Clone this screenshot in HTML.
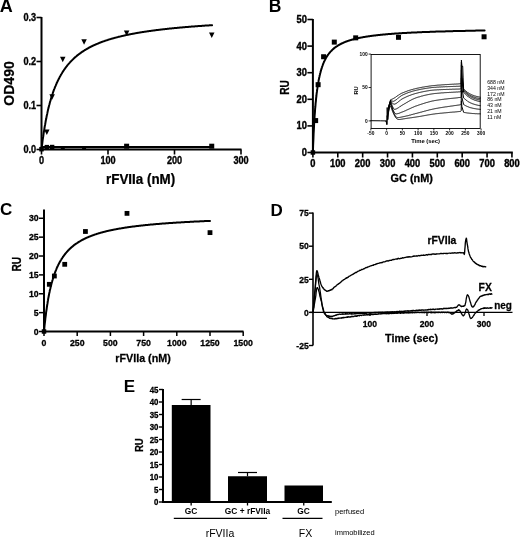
<!DOCTYPE html>
<html><head><meta charset="utf-8"><title>Figure</title>
<style>
html,body{margin:0;padding:0;background:#fff;}
body{width:520px;height:538px;overflow:hidden;font-family:"Liberation Sans",sans-serif;}
svg{display:block;will-change:transform;}
svg text{font-family:"Liberation Sans",sans-serif;fill:#000;}
</style></head><body>
<svg width="520" height="538" viewBox="0 0 520 538">
<rect width="520" height="538" fill="#fff"/>
<text transform="translate(-0.30,12.30) scale(1.0,1)" font-size="18" font-weight="bold" text-anchor="start">A</text>
<text transform="translate(268.70,12.30) scale(1.0,1)" font-size="17.5" font-weight="bold" text-anchor="start">B</text>
<text transform="translate(0.00,215.10) scale(1.0,1)" font-size="17" font-weight="bold" text-anchor="start">C</text>
<text transform="translate(270.50,215.60) scale(1.0,1)" font-size="17" font-weight="bold" text-anchor="start">D</text>
<text transform="translate(123.70,392.10) scale(1.0,1)" font-size="17" font-weight="bold" text-anchor="start">E</text>
<line x1="41.50" y1="17.00" x2="41.50" y2="150.50" stroke="#000" stroke-width="2" />
<line x1="40.50" y1="149.50" x2="241.50" y2="149.50" stroke="#000" stroke-width="2.2" />
<line x1="36.50" y1="149.50" x2="41.50" y2="149.50" stroke="#000" stroke-width="1.6" />
<text transform="translate(36.10,153.00) scale(0.87,1)" font-size="10.5" font-weight="bold" text-anchor="end" stroke="#000" stroke-width="0.35">0.0</text>
<line x1="36.50" y1="105.50" x2="41.50" y2="105.50" stroke="#000" stroke-width="1.6" />
<text transform="translate(36.10,109.00) scale(0.87,1)" font-size="10.5" font-weight="bold" text-anchor="end" stroke="#000" stroke-width="0.35">0.1</text>
<line x1="36.50" y1="61.50" x2="41.50" y2="61.50" stroke="#000" stroke-width="1.6" />
<text transform="translate(36.10,65.00) scale(0.87,1)" font-size="10.5" font-weight="bold" text-anchor="end" stroke="#000" stroke-width="0.35">0.2</text>
<line x1="36.50" y1="17.50" x2="41.50" y2="17.50" stroke="#000" stroke-width="1.6" />
<text transform="translate(36.10,21.00) scale(0.87,1)" font-size="10.5" font-weight="bold" text-anchor="end" stroke="#000" stroke-width="0.35">0.3</text>
<line x1="41.50" y1="149.50" x2="41.50" y2="154.50" stroke="#000" stroke-width="1.6" />
<text transform="translate(41.50,164.10) scale(0.87,1)" font-size="10.5" font-weight="bold" text-anchor="middle" stroke="#000" stroke-width="0.35">0</text>
<line x1="108.00" y1="149.50" x2="108.00" y2="154.50" stroke="#000" stroke-width="1.6" />
<text transform="translate(108.00,164.10) scale(0.87,1)" font-size="10.5" font-weight="bold" text-anchor="middle" stroke="#000" stroke-width="0.35">100</text>
<line x1="174.50" y1="149.50" x2="174.50" y2="154.50" stroke="#000" stroke-width="1.6" />
<text transform="translate(174.50,164.10) scale(0.87,1)" font-size="10.5" font-weight="bold" text-anchor="middle" stroke="#000" stroke-width="0.35">200</text>
<line x1="241.00" y1="149.50" x2="241.00" y2="154.50" stroke="#000" stroke-width="1.6" />
<text transform="translate(241.00,164.10) scale(0.87,1)" font-size="10.5" font-weight="bold" text-anchor="middle" stroke="#000" stroke-width="0.35">300</text>
<text transform="translate(14.40,83.50) rotate(-90) scale(0.97,1)" font-size="14.5" font-weight="bold" text-anchor="middle" stroke="#000" stroke-width="0.25">OD490</text>
<text transform="translate(140.60,183.80) scale(0.97,1)" font-size="13.8" font-weight="bold" text-anchor="middle" stroke="#000" stroke-width="0.25">rFVIIa (nM)</text>
<polyline points="41.5,149.5 41.8,146.7 42.2,144.1 42.5,141.5 42.8,139.0 43.2,136.7 43.5,134.4 43.8,132.2 44.2,130.1 44.5,128.0 44.8,126.1 45.2,124.2 45.5,122.3 45.8,120.5 46.2,118.8 46.5,117.1 46.8,115.5 47.2,113.9 47.5,112.4 47.8,110.9 48.1,109.5 48.5,108.1 48.8,106.8 49.1,105.5 49.5,104.2 49.8,102.9 50.1,101.7 50.5,100.6 50.8,99.4 51.1,98.3 51.5,97.2 51.8,96.1 52.1,95.1 52.5,94.1 52.8,93.1 53.1,92.2 53.5,91.2 53.8,90.3 54.1,89.4 54.5,88.6 54.8,87.7 55.1,86.9 55.5,86.1 55.8,85.3 56.1,84.5 56.5,83.7 56.8,83.0 57.1,82.2 57.5,81.5 57.8,80.8 58.1,80.1 58.5,79.5 58.8,78.8 59.1,78.2 59.5,77.5 59.8,76.9 60.1,76.3 60.5,75.7 60.8,75.1 61.1,74.5 61.5,74.0 61.8,73.4 62.1,72.9 62.4,72.3 62.8,71.8 63.1,71.3 63.4,70.8 63.8,70.3 64.1,69.8 64.4,69.3 64.8,68.8 65.1,68.4 65.4,67.9 65.8,67.5 66.1,67.0 66.4,66.6 66.8,66.2 67.1,65.7 67.4,65.3 67.8,64.9 68.1,64.5 68.4,64.1 68.8,63.7 69.1,63.4 69.4,63.0 69.8,62.6 70.1,62.2 70.4,61.9 70.8,61.5 71.1,61.2 71.4,60.8 71.8,60.5 72.1,60.2 72.4,59.8 72.8,59.5 73.1,59.2 73.4,58.9 73.8,58.5 74.1,58.2 74.4,57.9 74.8,57.6 75.1,57.3 75.4,57.0 75.7,56.8 76.1,56.5 76.4,56.2 76.7,55.9 77.1,55.6 77.4,55.4 77.7,55.1 78.1,54.8 78.4,54.6 78.7,54.3 79.1,54.1 79.4,53.8 79.7,53.6 80.1,53.3 80.4,53.1 80.7,52.9 81.1,52.6 81.4,52.4 81.7,52.2 82.1,51.9 82.4,51.7 82.7,51.5 83.1,51.3 83.4,51.0 83.7,50.8 84.1,50.6 84.4,50.4 84.7,50.2 85.1,50.0 85.4,49.8 85.7,49.6 86.1,49.4 86.4,49.2 86.7,49.0 87.1,48.8 87.4,48.6 87.7,48.4 88.1,48.3 88.4,48.1 88.7,47.9 89.0,47.7 89.4,47.5 89.7,47.4 90.0,47.2 90.4,47.0 90.7,46.8 91.0,46.7 91.4,46.5 91.7,46.3 92.0,46.2 92.4,46.0 92.7,45.8 93.0,45.7 93.4,45.5 93.7,45.4 94.0,45.2 94.4,45.1 94.7,44.9 95.0,44.8 95.4,44.6 95.7,44.5 96.0,44.3 96.4,44.2 96.7,44.0 97.0,43.9 97.4,43.8 97.7,43.6 98.0,43.5 98.4,43.3 98.7,43.2 99.0,43.1 99.4,42.9 99.7,42.8 100.0,42.7 100.4,42.5 100.7,42.4 101.0,42.3 101.3,42.2 101.7,42.0 102.0,41.9 102.3,41.8 102.7,41.7 103.0,41.5 103.3,41.4 103.7,41.3 104.0,41.2 104.3,41.1 104.7,41.0 105.0,40.8 105.3,40.7 105.7,40.6 106.0,40.5 106.3,40.4 106.7,40.3 107.0,40.2 107.3,40.1 107.7,40.0 108.0,39.9 108.3,39.7 108.7,39.6 109.0,39.5 109.3,39.4 109.7,39.3 110.0,39.2 110.3,39.1 110.7,39.0 111.0,38.9 111.3,38.8 111.7,38.7 112.0,38.6 112.3,38.5 112.7,38.4 113.0,38.4 113.3,38.3 113.7,38.2 114.0,38.1 114.3,38.0 114.7,37.9 115.0,37.8 115.3,37.7 115.6,37.6 116.0,37.5 116.3,37.4 116.6,37.4 117.0,37.3 117.3,37.2 117.6,37.1 118.0,37.0 118.3,36.9 118.6,36.8 119.0,36.8 119.3,36.7 119.6,36.6 120.0,36.5 120.3,36.4 120.6,36.4 121.0,36.3 121.3,36.2 121.6,36.1 122.0,36.0 122.3,36.0 122.6,35.9 123.0,35.8 123.3,35.7 123.6,35.7 124.0,35.6 124.3,35.5 124.6,35.4 125.0,35.4 125.3,35.3 125.6,35.2 126.0,35.1 126.3,35.1 126.6,35.0 127.0,34.9 127.3,34.9 127.6,34.8 128.0,34.7 128.3,34.7 128.6,34.6 128.9,34.5 129.3,34.5 129.6,34.4 129.9,34.3 130.3,34.3 130.6,34.2 130.9,34.1 131.3,34.1 131.6,34.0 131.9,33.9 132.3,33.9 132.6,33.8 132.9,33.7 133.3,33.7 133.6,33.6 133.9,33.6 134.3,33.5 134.6,33.4 134.9,33.4 135.3,33.3 135.6,33.3 135.9,33.2 136.3,33.1 136.6,33.1 136.9,33.0 137.3,33.0 137.6,32.9 137.9,32.8 138.3,32.8 138.6,32.7 138.9,32.7 139.3,32.6 139.6,32.6 139.9,32.5 140.3,32.5 140.6,32.4 140.9,32.3 141.2,32.3 141.6,32.2 141.9,32.2 142.2,32.1 142.6,32.1 142.9,32.0 143.2,32.0 143.6,31.9 143.9,31.9 144.2,31.8 144.6,31.8 144.9,31.7 145.2,31.7 145.6,31.6 145.9,31.6 146.2,31.5 146.6,31.5 146.9,31.4 147.2,31.4 147.6,31.3 147.9,31.3 148.2,31.2 148.6,31.2 148.9,31.1 149.2,31.1 149.6,31.0 149.9,31.0 150.2,30.9 150.6,30.9 150.9,30.9 151.2,30.8 151.6,30.8 151.9,30.7 152.2,30.7 152.6,30.6 152.9,30.6 153.2,30.5 153.6,30.5 153.9,30.4 154.2,30.4 154.6,30.4 154.9,30.3 155.2,30.3 155.5,30.2 155.9,30.2 156.2,30.1 156.5,30.1 156.9,30.1 157.2,30.0 157.5,30.0 157.9,29.9 158.2,29.9 158.5,29.9 158.9,29.8 159.2,29.8 159.5,29.7 159.9,29.7 160.2,29.7 160.5,29.6 160.9,29.6 161.2,29.5 161.5,29.5 161.9,29.5 162.2,29.4 162.5,29.4 162.9,29.3 163.2,29.3 163.5,29.3 163.9,29.2 164.2,29.2 164.5,29.2 164.9,29.1 165.2,29.1 165.5,29.0 165.9,29.0 166.2,29.0 166.5,28.9 166.9,28.9 167.2,28.9 167.5,28.8 167.9,28.8 168.2,28.8 168.5,28.7 168.8,28.7 169.2,28.6 169.5,28.6 169.8,28.6 170.2,28.5 170.5,28.5 170.8,28.5 171.2,28.4 171.5,28.4 171.8,28.4 172.2,28.3 172.5,28.3 172.8,28.3 173.2,28.2 173.5,28.2 173.8,28.2 174.2,28.1 174.5,28.1 174.8,28.1 175.2,28.0 175.5,28.0 175.8,28.0 176.2,27.9 176.5,27.9 176.8,27.9 177.2,27.9 177.5,27.8 177.8,27.8 178.2,27.8 178.5,27.7 178.8,27.7 179.2,27.7 179.5,27.6 179.8,27.6 180.2,27.6 180.5,27.5 180.8,27.5 181.2,27.5 181.5,27.5 181.8,27.4 182.1,27.4 182.5,27.4 182.8,27.3 183.1,27.3 183.5,27.3 183.8,27.3 184.1,27.2 184.5,27.2 184.8,27.2 185.1,27.1 185.5,27.1 185.8,27.1 186.1,27.1 186.5,27.0 186.8,27.0 187.1,27.0 187.5,26.9 187.8,26.9 188.1,26.9 188.5,26.9 188.8,26.8 189.1,26.8 189.5,26.8 189.8,26.8 190.1,26.7 190.5,26.7 190.8,26.7 191.1,26.6 191.5,26.6 191.8,26.6 192.1,26.6 192.5,26.5 192.8,26.5 193.1,26.5 193.5,26.5 193.8,26.4 194.1,26.4 194.5,26.4 194.8,26.4 195.1,26.3 195.4,26.3 195.8,26.3 196.1,26.3 196.4,26.2 196.8,26.2 197.1,26.2 197.4,26.2 197.8,26.1 198.1,26.1 198.4,26.1 198.8,26.1 199.1,26.0 199.4,26.0 199.8,26.0 200.1,26.0 200.4,25.9 200.8,25.9 201.1,25.9 201.4,25.9 201.8,25.9 202.1,25.8 202.4,25.8 202.8,25.8 203.1,25.8 203.4,25.7 203.8,25.7 204.1,25.7 204.4,25.7 204.8,25.6 205.1,25.6 205.4,25.6 205.8,25.6 206.1,25.6 206.4,25.5 206.8,25.5 207.1,25.5 207.4,25.5 207.8,25.4 208.1,25.4 208.4,25.4 208.7,25.4 209.1,25.4 209.4,25.3 209.7,25.3 210.1,25.3 210.4,25.3 210.7,25.3 211.1,25.2 211.4,25.2 211.7,25.2 212.1,25.2" fill="none" stroke="#000" stroke-width="2" stroke-linejoin="round" stroke-linecap="round" />
<polygon points="44.07,129.43 49.57,129.43 46.82,134.93" fill="#000"/>
<polygon points="49.39,94.23 54.89,94.23 52.14,99.73" fill="#000"/>
<polygon points="60.03,56.83 65.53,56.83 62.78,62.33" fill="#000"/>
<polygon points="81.31,39.23 86.81,39.23 84.06,44.73" fill="#000"/>
<polygon points="123.87,30.42 129.37,30.42 126.62,35.92" fill="#000"/>
<polygon points="208.99,32.62 214.49,32.62 211.74,38.12" fill="#000"/>
<line x1="41.50" y1="147.20" x2="211.74" y2="147.00" stroke="#000" stroke-width="2.2" />
<rect x="44.62" y="144.90" width="4.4" height="4.4" fill="#000"/>
<rect x="49.94" y="144.80" width="4.4" height="4.4" fill="#000"/>
<rect x="60.78" y="146.00" width="4.0" height="4.0" fill="#000"/>
<rect x="82.06" y="146.00" width="4.0" height="4.0" fill="#000"/>
<rect x="124.12" y="143.70" width="5.0" height="5.0" fill="#000"/>
<rect x="209.24" y="143.70" width="5.0" height="5.0" fill="#000"/>
<rect x="39.25" y="146.95" width="4.5" height="4.5" fill="#000"/>
<line x1="312.90" y1="19.00" x2="312.90" y2="153.50" stroke="#000" stroke-width="2" />
<line x1="311.90" y1="152.50" x2="512.80" y2="152.50" stroke="#000" stroke-width="2" />
<line x1="307.40" y1="152.50" x2="312.90" y2="152.50" stroke="#000" stroke-width="1.6" />
<text transform="translate(306.90,156.00) scale(0.89,1)" font-size="10.5" font-weight="bold" text-anchor="end" stroke="#000" stroke-width="0.4">0</text>
<line x1="307.40" y1="125.90" x2="312.90" y2="125.90" stroke="#000" stroke-width="1.6" />
<text transform="translate(306.90,129.40) scale(0.89,1)" font-size="10.5" font-weight="bold" text-anchor="end" stroke="#000" stroke-width="0.4">10</text>
<line x1="307.40" y1="99.30" x2="312.90" y2="99.30" stroke="#000" stroke-width="1.6" />
<text transform="translate(306.90,102.80) scale(0.89,1)" font-size="10.5" font-weight="bold" text-anchor="end" stroke="#000" stroke-width="0.4">20</text>
<line x1="307.40" y1="72.70" x2="312.90" y2="72.70" stroke="#000" stroke-width="1.6" />
<text transform="translate(306.90,76.20) scale(0.89,1)" font-size="10.5" font-weight="bold" text-anchor="end" stroke="#000" stroke-width="0.4">30</text>
<line x1="307.40" y1="46.10" x2="312.90" y2="46.10" stroke="#000" stroke-width="1.6" />
<text transform="translate(306.90,49.60) scale(0.89,1)" font-size="10.5" font-weight="bold" text-anchor="end" stroke="#000" stroke-width="0.4">40</text>
<line x1="307.40" y1="19.50" x2="312.90" y2="19.50" stroke="#000" stroke-width="1.6" />
<text transform="translate(306.90,23.00) scale(0.89,1)" font-size="10.5" font-weight="bold" text-anchor="end" stroke="#000" stroke-width="0.4">50</text>
<line x1="312.90" y1="152.50" x2="312.90" y2="157.50" stroke="#000" stroke-width="1.6" />
<text transform="translate(312.90,167.30) scale(0.89,1)" font-size="10.5" font-weight="bold" text-anchor="middle" stroke="#000" stroke-width="0.4">0</text>
<line x1="337.78" y1="152.50" x2="337.78" y2="157.50" stroke="#000" stroke-width="1.6" />
<text transform="translate(337.78,167.30) scale(0.89,1)" font-size="10.5" font-weight="bold" text-anchor="middle" stroke="#000" stroke-width="0.4">100</text>
<line x1="362.66" y1="152.50" x2="362.66" y2="157.50" stroke="#000" stroke-width="1.6" />
<text transform="translate(362.66,167.30) scale(0.89,1)" font-size="10.5" font-weight="bold" text-anchor="middle" stroke="#000" stroke-width="0.4">200</text>
<line x1="387.54" y1="152.50" x2="387.54" y2="157.50" stroke="#000" stroke-width="1.6" />
<text transform="translate(387.54,167.30) scale(0.89,1)" font-size="10.5" font-weight="bold" text-anchor="middle" stroke="#000" stroke-width="0.4">300</text>
<line x1="412.42" y1="152.50" x2="412.42" y2="157.50" stroke="#000" stroke-width="1.6" />
<text transform="translate(412.42,167.30) scale(0.89,1)" font-size="10.5" font-weight="bold" text-anchor="middle" stroke="#000" stroke-width="0.4">400</text>
<line x1="437.30" y1="152.50" x2="437.30" y2="157.50" stroke="#000" stroke-width="1.6" />
<text transform="translate(437.30,167.30) scale(0.89,1)" font-size="10.5" font-weight="bold" text-anchor="middle" stroke="#000" stroke-width="0.4">500</text>
<line x1="462.18" y1="152.50" x2="462.18" y2="157.50" stroke="#000" stroke-width="1.6" />
<text transform="translate(462.18,167.30) scale(0.89,1)" font-size="10.5" font-weight="bold" text-anchor="middle" stroke="#000" stroke-width="0.4">600</text>
<line x1="487.06" y1="152.50" x2="487.06" y2="157.50" stroke="#000" stroke-width="1.6" />
<text transform="translate(487.06,167.30) scale(0.89,1)" font-size="10.5" font-weight="bold" text-anchor="middle" stroke="#000" stroke-width="0.4">700</text>
<line x1="511.94" y1="152.50" x2="511.94" y2="157.50" stroke="#000" stroke-width="1.6" />
<text transform="translate(511.94,167.30) scale(0.89,1)" font-size="10.5" font-weight="bold" text-anchor="middle" stroke="#000" stroke-width="0.4">800</text>
<text transform="translate(289.30,87.40) rotate(-90) scale(0.84,1)" font-size="12.2" font-weight="bold" text-anchor="middle" stroke="#000" stroke-width="0.25">RU</text>
<text transform="translate(411.80,182.30) scale(0.94,1)" font-size="11.6" font-weight="bold" text-anchor="middle" stroke="#000" stroke-width="0.3">GC (nM)</text>
<polyline points="312.9,152.5 313.1,145.6 313.4,139.3 313.6,133.7 313.9,128.7 314.1,124.1 314.4,119.9 314.6,116.0 314.9,112.5 315.1,109.2 315.4,106.2 315.6,103.4 315.9,100.8 316.1,98.3 316.4,96.0 316.6,93.9 316.9,91.9 317.1,90.0 317.4,88.2 317.6,86.5 317.9,84.9 318.1,83.4 318.4,82.0 318.6,80.6 318.9,79.3 319.1,78.1 319.4,76.9 319.6,75.8 319.9,74.7 320.1,73.7 320.4,72.7 320.6,71.8 320.9,70.9 321.1,70.0 321.4,69.2 321.6,68.4 321.9,67.6 322.1,66.8 322.4,66.1 322.6,65.4 322.9,64.8 323.1,64.1 323.3,63.5 323.6,62.9 323.8,62.3 324.1,61.8 324.3,61.2 324.6,60.7 324.8,60.2 325.1,59.7 325.3,59.2 325.6,58.7 325.8,58.3 326.1,57.8 326.3,57.4 326.6,57.0 326.8,56.6 327.1,56.2 327.3,55.8 327.6,55.4 327.8,55.1 328.1,54.7 328.3,54.4 328.6,54.0 328.8,53.7 329.1,53.4 329.3,53.1 329.6,52.8 329.8,52.5 330.1,52.2 330.3,51.9 330.6,51.6 330.8,51.4 331.1,51.1 331.3,50.8 331.6,50.6 331.8,50.3 332.1,50.1 332.3,49.9 332.6,49.6 332.8,49.4 333.1,49.2 333.3,48.9 333.6,48.7 333.8,48.5 334.0,48.3 334.3,48.1 334.5,47.9 334.8,47.7 335.0,47.5 335.3,47.3 335.5,47.2 335.8,47.0 336.0,46.8 336.3,46.6 336.5,46.5 336.8,46.3 337.0,46.1 337.3,46.0 337.5,45.8 337.8,45.6 338.0,45.5 338.3,45.3 338.5,45.2 338.8,45.0 339.0,44.9 339.3,44.8 339.5,44.6 339.8,44.5 340.0,44.3 340.3,44.2 340.5,44.1 340.8,44.0 341.0,43.8 341.3,43.7 341.5,43.6 341.8,43.5 342.0,43.3 342.3,43.2 342.5,43.1 342.8,43.0 343.0,42.9 343.3,42.8 343.5,42.7 343.8,42.6 344.0,42.4 344.2,42.3 344.5,42.2 344.7,42.1 345.0,42.0 345.2,41.9 345.5,41.8 345.7,41.7 346.0,41.6 346.2,41.6 346.5,41.5 346.7,41.4 347.0,41.3 347.2,41.2 347.5,41.1 347.7,41.0 348.0,40.9 348.2,40.8 348.5,40.8 348.7,40.7 349.0,40.6 349.2,40.5 349.5,40.4 349.7,40.4 350.0,40.3 350.2,40.2 350.5,40.1 350.7,40.1 351.0,40.0 351.2,39.9 351.5,39.8 351.7,39.8 352.0,39.7 352.2,39.6 352.5,39.6 352.7,39.5 353.0,39.4 353.2,39.4 353.5,39.3 353.7,39.2 354.0,39.2 354.2,39.1 354.4,39.0 354.7,39.0 354.9,38.9 355.2,38.8 355.4,38.8 355.7,38.7 355.9,38.7 356.2,38.6 356.4,38.5 356.7,38.5 356.9,38.4 357.2,38.4 357.4,38.3 357.7,38.3 357.9,38.2 358.2,38.2 358.4,38.1 358.7,38.1 358.9,38.0 359.2,37.9 359.4,37.9 359.7,37.8 359.9,37.8 360.2,37.7 360.4,37.7 360.7,37.6 360.9,37.6 361.2,37.6 361.4,37.5 361.7,37.5 361.9,37.4 362.2,37.4 362.4,37.3 362.7,37.3 362.9,37.2 363.2,37.2 363.4,37.1 363.7,37.1 363.9,37.1 364.2,37.0 364.4,37.0 364.7,36.9 364.9,36.9 365.1,36.8 365.4,36.8 365.6,36.8 365.9,36.7 366.1,36.7 366.4,36.6 366.6,36.6 366.9,36.6 367.1,36.5 367.4,36.5 367.6,36.4 367.9,36.4 368.1,36.4 368.4,36.3 368.6,36.3 368.9,36.3 369.1,36.2 369.4,36.2 369.6,36.2 369.9,36.1 370.1,36.1 370.4,36.0 370.6,36.0 370.9,36.0 371.1,35.9 371.4,35.9 371.6,35.9 371.9,35.8 372.1,35.8 372.4,35.8 372.6,35.7 372.9,35.7 373.1,35.7 373.4,35.7 373.6,35.6 373.9,35.6 374.1,35.6 374.4,35.5 374.6,35.5 374.9,35.5 375.1,35.4 375.3,35.4 375.6,35.4 375.8,35.4 376.1,35.3 376.3,35.3 376.6,35.3 376.8,35.2 377.1,35.2 377.3,35.2 377.6,35.2 377.8,35.1 378.1,35.1 378.3,35.1 378.6,35.0 378.8,35.0 379.1,35.0 379.3,35.0 379.6,34.9 379.8,34.9 380.1,34.9 380.3,34.9 380.6,34.8 380.8,34.8 381.1,34.8 381.3,34.8 381.6,34.7 381.8,34.7 382.1,34.7 382.3,34.7 382.6,34.6 382.8,34.6 383.1,34.6 383.3,34.6 383.6,34.5 383.8,34.5 384.1,34.5 384.3,34.5 384.6,34.4 384.8,34.4 385.1,34.4 385.3,34.4 385.5,34.4 385.8,34.3 386.0,34.3 386.3,34.3 386.5,34.3 386.8,34.2 387.0,34.2 387.3,34.2 387.5,34.2 387.8,34.2 388.0,34.1 388.3,34.1 388.5,34.1 388.8,34.1 389.0,34.1 389.3,34.0 389.5,34.0 389.8,34.0 390.0,34.0 390.3,34.0 390.5,33.9 390.8,33.9 391.0,33.9 391.3,33.9 391.5,33.9 391.8,33.8 392.0,33.8 392.3,33.8 392.5,33.8 392.8,33.8 393.0,33.7 393.3,33.7 393.5,33.7 393.8,33.7 394.0,33.7 394.3,33.7 394.5,33.6 394.8,33.6 395.0,33.6 395.3,33.6 395.5,33.6 395.8,33.6 396.0,33.5 396.2,33.5 396.5,33.5 396.7,33.5 397.0,33.5 397.2,33.5 397.5,33.4 397.7,33.4 398.0,33.4 398.2,33.4 398.5,33.4 398.7,33.4 399.0,33.3 399.2,33.3 399.5,33.3 399.7,33.3 400.0,33.3 400.2,33.3 400.5,33.2 400.7,33.2 401.0,33.2 401.2,33.2 401.5,33.2 401.7,33.2 402.0,33.1 402.2,33.1 402.5,33.1 402.7,33.1 403.0,33.1 403.2,33.1 403.5,33.1 403.7,33.0 404.0,33.0 404.2,33.0 404.5,33.0 404.7,33.0 405.0,33.0 405.2,33.0 405.5,32.9 405.7,32.9 406.0,32.9 406.2,32.9 406.4,32.9 406.7,32.9 406.9,32.9 407.2,32.8 407.4,32.8 407.7,32.8 407.9,32.8 408.2,32.8 408.4,32.8 408.7,32.8 408.9,32.8 409.2,32.7 409.4,32.7 409.7,32.7 409.9,32.7 410.2,32.7 410.4,32.7 410.7,32.7 410.9,32.7 411.2,32.6 411.4,32.6 411.7,32.6 411.9,32.6 412.2,32.6 412.4,32.6 412.7,32.6 412.9,32.6 413.2,32.5 413.4,32.5 413.7,32.5 413.9,32.5 414.2,32.5 414.4,32.5 414.7,32.5 414.9,32.5 415.2,32.4 415.4,32.4 415.7,32.4 415.9,32.4 416.2,32.4 416.4,32.4 416.6,32.4 416.9,32.4 417.1,32.4 417.4,32.3 417.6,32.3 417.9,32.3 418.1,32.3 418.4,32.3 418.6,32.3 418.9,32.3 419.1,32.3 419.4,32.3 419.6,32.2 419.9,32.2 420.1,32.2 420.4,32.2 420.6,32.2 420.9,32.2 421.1,32.2 421.4,32.2 421.6,32.2 421.9,32.2 422.1,32.1 422.4,32.1 422.6,32.1 422.9,32.1 423.1,32.1 423.4,32.1 423.6,32.1 423.9,32.1 424.1,32.1 424.4,32.1 424.6,32.0 424.9,32.0 425.1,32.0 425.4,32.0 425.6,32.0 425.9,32.0 426.1,32.0 426.4,32.0 426.6,32.0 426.9,32.0 427.1,31.9 427.3,31.9 427.6,31.9 427.8,31.9 428.1,31.9 428.3,31.9 428.6,31.9 428.8,31.9 429.1,31.9 429.3,31.9 429.6,31.9 429.8,31.8 430.1,31.8 430.3,31.8 430.6,31.8 430.8,31.8 431.1,31.8 431.3,31.8 431.6,31.8 431.8,31.8 432.1,31.8 432.3,31.8 432.6,31.7 432.8,31.7 433.1,31.7 433.3,31.7 433.6,31.7 433.8,31.7 434.1,31.7 434.3,31.7 434.6,31.7 434.8,31.7 435.1,31.7 435.3,31.7 435.6,31.6 435.8,31.6 436.1,31.6 436.3,31.6 436.6,31.6 436.8,31.6 437.1,31.6 437.3,31.6 437.5,31.6 437.8,31.6 438.0,31.6 438.3,31.6 438.5,31.6 438.8,31.5 439.0,31.5 439.3,31.5 439.5,31.5 439.8,31.5 440.0,31.5 440.3,31.5 440.5,31.5 440.8,31.5 441.0,31.5 441.3,31.5 441.5,31.5 441.8,31.5 442.0,31.4 442.3,31.4 442.5,31.4 442.8,31.4 443.0,31.4 443.3,31.4 443.5,31.4 443.8,31.4 444.0,31.4 444.3,31.4 444.5,31.4 444.8,31.4 445.0,31.4 445.3,31.4 445.5,31.3 445.8,31.3 446.0,31.3 446.3,31.3 446.5,31.3 446.8,31.3 447.0,31.3 447.3,31.3 447.5,31.3 447.7,31.3 448.0,31.3 448.2,31.3 448.5,31.3 448.7,31.3 449.0,31.2 449.2,31.2 449.5,31.2 449.7,31.2 450.0,31.2 450.2,31.2 450.5,31.2 450.7,31.2 451.0,31.2 451.2,31.2 451.5,31.2 451.7,31.2 452.0,31.2 452.2,31.2 452.5,31.2 452.7,31.2 453.0,31.1 453.2,31.1 453.5,31.1 453.7,31.1 454.0,31.1 454.2,31.1 454.5,31.1 454.7,31.1 455.0,31.1 455.2,31.1 455.5,31.1 455.7,31.1 456.0,31.1 456.2,31.1 456.5,31.1 456.7,31.1 457.0,31.0 457.2,31.0 457.5,31.0 457.7,31.0 458.0,31.0 458.2,31.0 458.4,31.0 458.7,31.0 458.9,31.0 459.2,31.0 459.4,31.0 459.7,31.0 459.9,31.0 460.2,31.0 460.4,31.0 460.7,31.0 460.9,31.0 461.2,30.9 461.4,30.9 461.7,30.9 461.9,30.9 462.2,30.9 462.4,30.9 462.7,30.9 462.9,30.9 463.2,30.9 463.4,30.9 463.7,30.9 463.9,30.9 464.2,30.9 464.4,30.9 464.7,30.9 464.9,30.9 465.2,30.9 465.4,30.9 465.7,30.8 465.9,30.8 466.2,30.8 466.4,30.8 466.7,30.8 466.9,30.8 467.2,30.8 467.4,30.8 467.7,30.8 467.9,30.8 468.2,30.8 468.4,30.8 468.6,30.8 468.9,30.8 469.1,30.8 469.4,30.8 469.6,30.8 469.9,30.8 470.1,30.8 470.4,30.7 470.6,30.7 470.9,30.7 471.1,30.7 471.4,30.7 471.6,30.7 471.9,30.7 472.1,30.7 472.4,30.7 472.6,30.7 472.9,30.7 473.1,30.7 473.4,30.7 473.6,30.7 473.9,30.7 474.1,30.7 474.4,30.7 474.6,30.7 474.9,30.7 475.1,30.7 475.4,30.7 475.6,30.6 475.9,30.6 476.1,30.6 476.4,30.6 476.6,30.6 476.9,30.6 477.1,30.6 477.4,30.6 477.6,30.6 477.9,30.6 478.1,30.6 478.4,30.6 478.6,30.6 478.8,30.6 479.1,30.6 479.3,30.6 479.6,30.6 479.8,30.6 480.1,30.6 480.3,30.6 480.6,30.6 480.8,30.6 481.1,30.5 481.3,30.5 481.6,30.5 481.8,30.5 482.1,30.5 482.3,30.5 482.6,30.5 482.8,30.5 483.1,30.5 483.3,30.5 483.6,30.5 483.8,30.5 484.1,30.5 484.3,30.5 484.6,30.5" fill="none" stroke="#000" stroke-width="2" stroke-linejoin="round" stroke-linecap="round" />
<rect x="313.14" y="118.08" width="5.0" height="5.0" fill="#000"/>
<rect x="315.62" y="82.17" width="5.0" height="5.0" fill="#000"/>
<rect x="321.10" y="54.24" width="5.0" height="5.0" fill="#000"/>
<rect x="331.80" y="39.61" width="5.0" height="5.0" fill="#000"/>
<rect x="353.19" y="35.35" width="5.0" height="5.0" fill="#000"/>
<rect x="395.99" y="34.82" width="5.0" height="5.0" fill="#000"/>
<rect x="481.57" y="34.29" width="5.0" height="5.0" fill="#000"/>
<rect x="310.65" y="150.25" width="4.5" height="4.5" fill="#000"/>
<rect x="371.1" y="54.5" width="109.1" height="74.0" fill="none" stroke="#000" stroke-width="0.9"/>
<line x1="368.60" y1="120.90" x2="371.00" y2="120.90" stroke="#000" stroke-width="0.8" />
<text transform="translate(367.60,122.80) scale(0.9,1)" font-size="5.4" font-weight="bold" text-anchor="end">0</text>
<line x1="368.60" y1="87.50" x2="371.00" y2="87.50" stroke="#000" stroke-width="0.8" />
<text transform="translate(367.60,89.40) scale(0.9,1)" font-size="5.4" font-weight="bold" text-anchor="end">50</text>
<line x1="368.60" y1="54.10" x2="371.00" y2="54.10" stroke="#000" stroke-width="0.8" />
<text transform="translate(367.60,56.00) scale(0.9,1)" font-size="5.4" font-weight="bold" text-anchor="end">100</text>
<line x1="370.85" y1="128.50" x2="370.85" y2="130.50" stroke="#000" stroke-width="0.8" />
<text transform="translate(370.85,134.60) scale(0.9,1)" font-size="5.4" font-weight="bold" text-anchor="middle">-50</text>
<line x1="386.60" y1="128.50" x2="386.60" y2="130.50" stroke="#000" stroke-width="0.8" />
<text transform="translate(386.60,134.60) scale(0.9,1)" font-size="5.4" font-weight="bold" text-anchor="middle">0</text>
<line x1="402.35" y1="128.50" x2="402.35" y2="130.50" stroke="#000" stroke-width="0.8" />
<text transform="translate(402.35,134.60) scale(0.9,1)" font-size="5.4" font-weight="bold" text-anchor="middle">50</text>
<line x1="418.10" y1="128.50" x2="418.10" y2="130.50" stroke="#000" stroke-width="0.8" />
<text transform="translate(418.10,134.60) scale(0.9,1)" font-size="5.4" font-weight="bold" text-anchor="middle">100</text>
<line x1="433.85" y1="128.50" x2="433.85" y2="130.50" stroke="#000" stroke-width="0.8" />
<text transform="translate(433.85,134.60) scale(0.9,1)" font-size="5.4" font-weight="bold" text-anchor="middle">150</text>
<line x1="449.60" y1="128.50" x2="449.60" y2="130.50" stroke="#000" stroke-width="0.8" />
<text transform="translate(449.60,134.60) scale(0.9,1)" font-size="5.4" font-weight="bold" text-anchor="middle">200</text>
<line x1="465.35" y1="128.50" x2="465.35" y2="130.50" stroke="#000" stroke-width="0.8" />
<text transform="translate(465.35,134.60) scale(0.9,1)" font-size="5.4" font-weight="bold" text-anchor="middle">250</text>
<line x1="481.10" y1="128.50" x2="481.10" y2="130.50" stroke="#000" stroke-width="0.8" />
<text transform="translate(481.10,134.60) scale(0.9,1)" font-size="5.4" font-weight="bold" text-anchor="middle">300</text>
<text transform="translate(357.60,90.50) rotate(-90) scale(1.0,1)" font-size="5.6" font-weight="bold" text-anchor="middle">RU</text>
<text transform="translate(425.60,143.40) scale(0.95,1)" font-size="6.2" font-weight="bold" text-anchor="middle">Time (sec)</text>
<polyline points="370.9,120.7 380.3,120.8 385.0,120.9 386.1,121.1" fill="none" stroke="#000" stroke-width="1.0" stroke-linejoin="round" stroke-linecap="round" />
<polyline points="386.1,121.1 386.9,123.6 387.2,107.5 387.7,119.6 388.5,108.9 389.1,104.9 390.6,99.8 390.9,99.7 391.2,99.5 391.5,99.4 391.9,99.3 392.2,99.1 392.5,99.0 392.8,98.8 393.1,98.7 393.4,98.5 393.7,98.3 394.0,98.1 394.3,98.0 394.6,97.8 395.0,97.6 395.3,97.4 395.6,97.2 395.9,96.9 396.2,96.7 396.5,96.5 396.8,96.3 397.1,96.1 397.4,95.9 397.7,95.7 398.0,95.5 398.3,95.2 398.6,95.0 399.0,94.8 399.3,94.6 399.6,94.4 399.9,94.3 400.2,94.1 400.5,93.9 400.8,93.7 401.1,93.6 401.4,93.4 401.7,93.2 402.0,93.1 402.3,93.0 402.7,92.8 403.0,92.7 403.3,92.6 403.6,92.5 403.9,92.3 404.2,92.2 404.5,92.1 404.8,92.0 405.2,91.8 405.5,91.7 405.8,91.6 406.1,91.5 406.4,91.4 406.7,91.3 407.0,91.1 407.3,91.0 407.6,90.9 408.0,90.8 408.3,90.7 408.6,90.6 408.9,90.5 409.2,90.4 409.5,90.3 409.8,90.2 410.1,90.1 410.5,90.0 410.8,89.9 411.1,89.8 411.4,89.7 411.7,89.6 412.0,89.5 412.3,89.5 412.6,89.4 412.9,89.3 413.3,89.2 413.6,89.1 413.9,89.0 414.2,89.0 414.5,88.9 414.8,88.8 415.1,88.7 415.4,88.7 415.8,88.6 416.1,88.5 416.4,88.4 416.7,88.4 417.0,88.3 417.3,88.2 417.6,88.2 417.9,88.1 418.2,88.0 418.6,88.0 418.9,87.9 419.2,87.8 419.5,87.8 419.8,87.7 420.1,87.7 420.4,87.6 420.7,87.5 421.0,87.5 421.3,87.4 421.7,87.4 422.0,87.3 422.3,87.2 422.6,87.2 422.9,87.1 423.2,87.1 423.5,87.0 423.8,87.0 424.1,86.9 424.5,86.9 424.8,86.8 425.1,86.7 425.4,86.7 425.7,86.6 426.0,86.6 426.3,86.5 426.6,86.5 426.9,86.4 427.2,86.4 427.6,86.4 427.9,86.3 428.2,86.3 428.5,86.2 428.8,86.2 429.1,86.1 429.4,86.1 429.7,86.0 430.0,86.0 430.4,86.0 430.7,85.9 431.0,85.9 431.3,85.8 431.6,85.8 431.9,85.8 432.2,85.7 432.5,85.7 432.8,85.7 433.2,85.6 433.5,85.6 433.8,85.6 434.1,85.5 434.4,85.5 434.7,85.5 435.0,85.4 435.3,85.4 435.6,85.4 436.0,85.3 436.3,85.3 436.6,85.3 436.9,85.3 437.2,85.2 437.5,85.2 437.8,85.2 438.1,85.2 438.5,85.1 438.8,85.1 439.1,85.1 439.4,85.1 439.7,85.0 440.0,85.0 440.3,85.0 440.6,85.0 440.9,84.9 441.3,84.9 441.6,84.9 441.9,84.9 442.2,84.9 442.5,84.8 442.8,84.8 443.1,84.8 443.4,84.8 443.8,84.7 444.1,84.7 444.4,84.7 444.7,84.7 445.0,84.7 445.3,84.6 445.6,84.6 445.9,84.6 446.3,84.6 446.6,84.6 446.9,84.6 447.2,84.5 447.5,84.5 447.8,84.5 448.1,84.5 448.4,84.5 448.8,84.4 449.1,84.4 449.4,84.4 449.7,84.4 450.0,84.4 450.3,84.4 450.6,84.3 450.9,84.3 451.3,84.3 451.6,84.3 451.9,84.3 452.2,84.3 452.5,84.2 452.8,84.2 453.1,84.2 453.4,84.2 453.8,84.2 454.1,84.1 454.4,84.1 454.7,84.1 455.0,84.1 455.3,84.1 455.6,84.1 455.9,84.0 456.3,84.0 456.6,84.0 456.9,84.0 457.2,84.0 457.5,84.0 457.8,83.9 458.1,83.9 458.4,83.9 458.8,83.9 459.1,83.9 459.4,83.8 459.7,83.8 460.0,83.8 460.3,83.8 460.6,83.8 461.2,83.1 461.4,60.1 462.0,66.7 462.7,66.2 463.1,77.1 463.6,88.8 463.9,89.2 464.2,89.5 464.6,89.8 464.9,90.1 465.2,90.4 465.5,90.7 465.8,91.0 466.1,91.3 466.5,91.5 466.8,91.8 467.1,92.0 467.4,92.3 467.7,92.5 468.0,92.7 468.3,92.9 468.7,93.1 469.0,93.3 469.3,93.5 469.6,93.7 469.9,93.9 470.2,94.0 470.5,94.2 470.9,94.3 471.2,94.5 471.5,94.6 471.8,94.8 472.1,94.9 472.4,95.1 472.8,95.2 473.1,95.3 473.4,95.4 473.7,95.5 474.0,95.6 474.3,95.8 474.6,95.9 475.0,96.0 475.3,96.1 475.6,96.1 475.9,96.2 476.2,96.3 476.5,96.4 476.8,96.5 477.2,96.6 477.5,96.6 477.8,96.7 478.1,96.8 478.4,96.8 478.7,96.9 479.1,97.0 479.4,97.0 479.7,97.1 480.0,97.1 480.3,97.2" fill="none" stroke="#000" stroke-width="1.0" stroke-linejoin="round" stroke-linecap="round" />
<polyline points="388.5,109.5 389.1,105.2 390.6,100.2 390.9,100.4 391.1,100.5 391.4,100.7 391.7,100.9 392.0,101.0 392.3,101.1 392.6,101.2 392.9,101.3 393.2,101.3 393.5,101.3 393.8,101.2 394.2,101.0 394.5,100.8 394.8,100.7 395.1,100.5 395.4,100.3 395.7,100.1 396.1,99.9 396.4,99.7 396.7,99.4 397.0,99.2 397.3,98.9 397.6,98.6 397.9,98.4 398.3,98.1 398.6,97.8 398.9,97.6 399.2,97.3 399.5,97.0 399.8,96.8 400.1,96.5 400.5,96.3 400.8,96.1 401.1,95.9 401.4,95.7 401.7,95.5 402.0,95.3 402.3,95.2 402.7,95.0 403.0,94.9 403.3,94.7 403.6,94.6 403.9,94.4 404.2,94.3 404.5,94.2 404.8,94.0 405.2,93.9 405.5,93.7 405.8,93.6 406.1,93.5 406.4,93.4 406.7,93.2 407.0,93.1 407.3,93.0 407.6,92.9 408.0,92.8 408.3,92.6 408.6,92.5 408.9,92.4 409.2,92.3 409.5,92.2 409.8,92.1 410.1,92.0 410.5,91.9 410.8,91.8 411.1,91.7 411.4,91.6 411.7,91.5 412.0,91.4 412.3,91.3 412.6,91.2 412.9,91.1 413.3,91.0 413.6,90.9 413.9,90.9 414.2,90.8 414.5,90.7 414.8,90.6 415.1,90.5 415.4,90.5 415.8,90.4 416.1,90.3 416.4,90.2 416.7,90.2 417.0,90.1 417.3,90.0 417.6,90.0 417.9,89.9 418.2,89.8 418.6,89.8 418.9,89.7 419.2,89.6 419.5,89.6 419.8,89.5 420.1,89.5 420.4,89.4 420.7,89.3 421.0,89.3 421.3,89.2 421.7,89.1 422.0,89.1 422.3,89.0 422.6,89.0 422.9,88.9 423.2,88.9 423.5,88.8 423.8,88.7 424.1,88.7 424.5,88.6 424.8,88.6 425.1,88.5 425.4,88.5 425.7,88.4 426.0,88.4 426.3,88.3 426.6,88.3 426.9,88.2 427.2,88.2 427.6,88.1 427.9,88.1 428.2,88.0 428.5,88.0 428.8,88.0 429.1,87.9 429.4,87.9 429.7,87.8 430.0,87.8 430.4,87.8 430.7,87.7 431.0,87.7 431.3,87.6 431.6,87.6 431.9,87.6 432.2,87.5 432.5,87.5 432.8,87.5 433.2,87.5 433.5,87.4 433.8,87.4 434.1,87.4 434.4,87.3 434.7,87.3 435.0,87.3 435.3,87.3 435.6,87.3 436.0,87.2 436.3,87.2 436.6,87.2 436.9,87.2 437.2,87.2 437.5,87.1 437.8,87.1 438.1,87.1 438.5,87.1 438.8,87.1 439.1,87.0 439.4,87.0 439.7,87.0 440.0,87.0 440.3,87.0 440.6,87.0 440.9,86.9 441.3,86.9 441.6,86.9 441.9,86.9 442.2,86.9 442.5,86.9 442.8,86.9 443.1,86.8 443.4,86.8 443.8,86.8 444.1,86.8 444.4,86.8 444.7,86.8 445.0,86.8 445.3,86.7 445.6,86.7 445.9,86.7 446.3,86.7 446.6,86.7 446.9,86.7 447.2,86.7 447.5,86.7 447.8,86.6 448.1,86.6 448.4,86.6 448.8,86.6 449.1,86.6 449.4,86.6 449.7,86.6 450.0,86.6 450.3,86.6 450.6,86.5 450.9,86.5 451.3,86.5 451.6,86.5 451.9,86.5 452.2,86.5 452.5,86.5 452.8,86.5 453.1,86.5 453.4,86.4 453.8,86.4 454.1,86.4 454.4,86.4 454.7,86.4 455.0,86.4 455.3,86.4 455.6,86.4 455.9,86.4 456.3,86.3 456.6,86.3 456.9,86.3 457.2,86.3 457.5,86.3 457.8,86.3 458.1,86.3 458.4,86.3 458.8,86.2 459.1,86.2 459.4,86.2 459.7,86.2 460.0,86.2 460.3,86.2 460.6,86.2 461.2,85.5 461.4,62.1 461.9,76.0 463.6,89.8 463.9,90.2 464.2,90.6 464.6,90.9 464.9,91.2 465.2,91.5 465.5,91.9 465.8,92.2 466.1,92.4 466.5,92.7 466.8,93.0 467.1,93.2 467.4,93.5 467.7,93.7 468.0,94.0 468.3,94.2 468.7,94.4 469.0,94.6 469.3,94.8 469.6,95.0 469.9,95.2 470.2,95.4 470.5,95.5 470.9,95.7 471.2,95.9 471.5,96.0 471.8,96.2 472.1,96.3 472.4,96.4 472.8,96.6 473.1,96.7 473.4,96.8 473.7,97.0 474.0,97.1 474.3,97.2 474.6,97.3 475.0,97.4 475.3,97.5 475.6,97.6 475.9,97.7 476.2,97.8 476.5,97.9 476.8,98.0 477.2,98.0 477.5,98.1 477.8,98.2 478.1,98.3 478.4,98.3 478.7,98.4 479.1,98.5 479.4,98.5 479.7,98.6 480.0,98.7 480.3,98.7" fill="none" stroke="#000" stroke-width="1.0" stroke-linejoin="round" stroke-linecap="round" />
<polyline points="388.5,110.2 389.1,105.5 390.6,100.9 390.9,101.2 391.2,101.6 391.5,102.0 391.7,102.4 392.0,102.8 392.3,103.1 392.6,103.3 392.9,103.6 393.2,103.8 393.4,104.0 393.7,104.1 394.0,104.2 394.3,104.2 394.6,104.1 394.9,104.0 395.1,103.9 395.4,103.8 395.7,103.7 396.1,103.5 396.4,103.3 396.7,103.1 397.0,102.9 397.3,102.7 397.6,102.4 397.9,102.2 398.3,101.9 398.6,101.7 398.9,101.4 399.2,101.1 399.5,100.8 399.8,100.6 400.1,100.3 400.5,100.1 400.8,99.8 401.1,99.6 401.4,99.4 401.7,99.2 402.0,99.0 402.3,98.8 402.7,98.7 403.0,98.5 403.3,98.3 403.6,98.2 403.9,98.0 404.2,97.9 404.5,97.7 404.8,97.6 405.2,97.4 405.5,97.3 405.8,97.1 406.1,97.0 406.4,96.8 406.7,96.7 407.0,96.6 407.3,96.4 407.6,96.3 408.0,96.2 408.3,96.0 408.6,95.9 408.9,95.8 409.2,95.6 409.5,95.5 409.8,95.4 410.1,95.3 410.5,95.2 410.8,95.0 411.1,94.9 411.4,94.8 411.7,94.7 412.0,94.6 412.3,94.5 412.6,94.4 412.9,94.3 413.3,94.2 413.6,94.1 413.9,94.0 414.2,93.9 414.5,93.8 414.8,93.7 415.1,93.6 415.4,93.5 415.8,93.4 416.1,93.3 416.4,93.3 416.7,93.2 417.0,93.1 417.3,93.0 417.6,93.0 417.9,92.9 418.2,92.8 418.6,92.7 418.9,92.7 419.2,92.6 419.5,92.5 419.8,92.4 420.1,92.4 420.4,92.3 420.7,92.2 421.0,92.2 421.3,92.1 421.7,92.0 422.0,92.0 422.3,91.9 422.6,91.8 422.9,91.8 423.2,91.7 423.5,91.6 423.8,91.6 424.1,91.5 424.5,91.4 424.8,91.4 425.1,91.3 425.4,91.3 425.7,91.2 426.0,91.1 426.3,91.1 426.6,91.0 426.9,91.0 427.2,90.9 427.6,90.9 427.9,90.8 428.2,90.8 428.5,90.7 428.8,90.7 429.1,90.6 429.4,90.6 429.7,90.5 430.0,90.5 430.4,90.4 430.7,90.4 431.0,90.4 431.3,90.3 431.6,90.3 431.9,90.3 432.2,90.2 432.5,90.2 432.8,90.2 433.2,90.1 433.5,90.1 433.8,90.1 434.1,90.0 434.4,90.0 434.7,90.0 435.0,90.0 435.3,90.0 435.6,89.9 436.0,89.9 436.3,89.9 436.6,89.9 436.9,89.9 437.2,89.8 437.5,89.8 437.8,89.8 438.1,89.8 438.5,89.8 438.8,89.8 439.1,89.7 439.4,89.7 439.7,89.7 440.0,89.7 440.3,89.7 440.6,89.7 440.9,89.6 441.3,89.6 441.6,89.6 441.9,89.6 442.2,89.6 442.5,89.6 442.8,89.6 443.1,89.6 443.4,89.5 443.8,89.5 444.1,89.5 444.4,89.5 444.7,89.5 445.0,89.5 445.3,89.5 445.6,89.5 445.9,89.4 446.3,89.4 446.6,89.4 446.9,89.4 447.2,89.4 447.5,89.4 447.8,89.4 448.1,89.4 448.4,89.4 448.8,89.4 449.1,89.3 449.4,89.3 449.7,89.3 450.0,89.3 450.3,89.3 450.6,89.3 450.9,89.3 451.3,89.3 451.6,89.3 451.9,89.3 452.2,89.2 452.5,89.2 452.8,89.2 453.1,89.2 453.4,89.2 453.8,89.2 454.1,89.2 454.4,89.2 454.7,89.2 455.0,89.2 455.3,89.2 455.6,89.1 455.9,89.1 456.3,89.1 456.6,89.1 456.9,89.1 457.2,89.1 457.5,89.1 457.8,89.1 458.1,89.1 458.4,89.1 458.8,89.0 459.1,89.0 459.4,89.0 459.7,89.0 460.0,89.0 460.3,89.0 460.6,89.0 461.2,88.3 461.4,64.8 461.9,77.8 463.6,90.8 463.9,91.2 464.2,91.6 464.6,91.9 464.9,92.3 465.2,92.6 465.5,92.9 465.8,93.2 466.1,93.5 466.5,93.8 466.8,94.1 467.1,94.4 467.4,94.6 467.7,94.9 468.0,95.1 468.3,95.3 468.7,95.6 469.0,95.8 469.3,96.0 469.6,96.2 469.9,96.4 470.2,96.6 470.5,96.7 470.9,96.9 471.2,97.1 471.5,97.2 471.8,97.4 472.1,97.6 472.4,97.7 472.8,97.8 473.1,98.0 473.4,98.1 473.7,98.2 474.0,98.3 474.3,98.5 474.6,98.6 475.0,98.7 475.3,98.8 475.6,98.9 475.9,99.0 476.2,99.1 476.5,99.2 476.8,99.3 477.2,99.4 477.5,99.4 477.8,99.5 478.1,99.6 478.4,99.7 478.7,99.7 479.1,99.8 479.4,99.9 479.7,99.9 480.0,100.0 480.3,100.1" fill="none" stroke="#000" stroke-width="1.0" stroke-linejoin="round" stroke-linecap="round" />
<polyline points="388.5,110.9 389.1,105.9 390.6,101.5 390.9,102.3 391.2,103.0 391.5,103.8 391.8,104.5 392.0,105.3 392.3,106.0 392.6,106.6 392.9,107.2 393.2,107.7 393.5,108.3 393.7,108.7 394.0,109.0 394.2,109.2 394.5,109.3 394.7,109.4 395.0,109.4 395.2,109.3 395.5,109.2 395.8,109.1 396.1,109.0 396.4,108.9 396.7,108.7 397.0,108.6 397.3,108.4 397.6,108.2 397.9,108.0 398.3,107.8 398.6,107.6 398.9,107.4 399.2,107.2 399.5,107.0 399.8,106.7 400.1,106.5 400.5,106.3 400.8,106.1 401.1,105.9 401.4,105.7 401.7,105.5 402.0,105.3 402.3,105.1 402.7,104.9 403.0,104.7 403.3,104.5 403.6,104.4 403.9,104.2 404.2,104.0 404.5,103.8 404.8,103.6 405.2,103.4 405.5,103.3 405.8,103.1 406.1,102.9 406.4,102.7 406.7,102.5 407.0,102.3 407.3,102.2 407.6,102.0 408.0,101.8 408.3,101.6 408.6,101.4 408.9,101.3 409.2,101.1 409.5,100.9 409.8,100.7 410.1,100.6 410.5,100.4 410.8,100.2 411.1,100.1 411.4,99.9 411.7,99.7 412.0,99.6 412.3,99.4 412.6,99.3 412.9,99.1 413.3,99.0 413.6,98.8 413.9,98.7 414.2,98.6 414.5,98.4 414.8,98.3 415.1,98.2 415.4,98.1 415.8,97.9 416.1,97.8 416.4,97.7 416.7,97.6 417.0,97.5 417.3,97.4 417.6,97.3 417.9,97.2 418.2,97.1 418.6,97.0 418.9,96.9 419.2,96.9 419.5,96.8 419.8,96.7 420.1,96.6 420.4,96.5 420.7,96.4 421.0,96.3 421.3,96.2 421.7,96.1 422.0,96.1 422.3,96.0 422.6,95.9 422.9,95.8 423.2,95.7 423.5,95.6 423.8,95.6 424.1,95.5 424.5,95.4 424.8,95.3 425.1,95.3 425.4,95.2 425.7,95.1 426.0,95.0 426.3,95.0 426.6,94.9 426.9,94.8 427.2,94.8 427.6,94.7 427.9,94.6 428.2,94.6 428.5,94.5 428.8,94.5 429.1,94.4 429.4,94.3 429.7,94.3 430.0,94.2 430.4,94.2 430.7,94.1 431.0,94.1 431.3,94.0 431.6,94.0 431.9,93.9 432.2,93.9 432.5,93.8 432.8,93.8 433.2,93.7 433.5,93.7 433.8,93.7 434.1,93.6 434.4,93.6 434.7,93.5 435.0,93.5 435.3,93.5 435.6,93.4 436.0,93.4 436.3,93.4 436.6,93.4 436.9,93.3 437.2,93.3 437.5,93.3 437.8,93.2 438.1,93.2 438.5,93.2 438.8,93.2 439.1,93.1 439.4,93.1 439.7,93.1 440.0,93.0 440.3,93.0 440.6,93.0 440.9,93.0 441.3,92.9 441.6,92.9 441.9,92.9 442.2,92.9 442.5,92.9 442.8,92.8 443.1,92.8 443.4,92.8 443.8,92.8 444.1,92.7 444.4,92.7 444.7,92.7 445.0,92.7 445.3,92.7 445.6,92.6 445.9,92.6 446.3,92.6 446.6,92.6 446.9,92.6 447.2,92.6 447.5,92.5 447.8,92.5 448.1,92.5 448.4,92.5 448.8,92.5 449.1,92.4 449.4,92.4 449.7,92.4 450.0,92.4 450.3,92.4 450.6,92.4 450.9,92.3 451.3,92.3 451.6,92.3 451.9,92.3 452.2,92.3 452.5,92.3 452.8,92.2 453.1,92.2 453.4,92.2 453.8,92.2 454.1,92.2 454.4,92.2 454.7,92.1 455.0,92.1 455.3,92.1 455.6,92.1 455.9,92.1 456.3,92.0 456.6,92.0 456.9,92.0 457.2,92.0 457.5,92.0 457.8,92.0 458.1,91.9 458.4,91.9 458.8,91.9 459.1,91.9 459.4,91.9 459.7,91.8 460.0,91.8 460.3,91.8 460.6,91.8 461.2,91.1 461.4,70.1 461.9,81.2 463.6,92.2 463.9,92.6 464.2,92.9 464.6,93.3 464.9,93.7 465.2,94.0 465.5,94.3 465.8,94.6 466.1,94.9 466.5,95.2 466.8,95.5 467.1,95.8 467.4,96.0 467.7,96.3 468.0,96.5 468.3,96.8 468.7,97.0 469.0,97.2 469.3,97.4 469.6,97.6 469.9,97.8 470.2,98.0 470.5,98.2 470.9,98.4 471.2,98.6 471.5,98.7 471.8,98.9 472.1,99.0 472.4,99.2 472.8,99.3 473.1,99.5 473.4,99.6 473.7,99.7 474.0,99.8 474.3,100.0 474.6,100.1 475.0,100.2 475.3,100.3 475.6,100.4 475.9,100.5 476.2,100.6 476.5,100.7 476.8,100.8 477.2,100.9 477.5,101.0 477.8,101.0 478.1,101.1 478.4,101.2 478.7,101.3 479.1,101.3 479.4,101.4 479.7,101.5 480.0,101.5 480.3,101.6" fill="none" stroke="#000" stroke-width="1.0" stroke-linejoin="round" stroke-linecap="round" />
<polyline points="388.5,111.5 389.1,106.2 390.6,102.9 390.9,103.7 391.2,104.5 391.5,105.4 391.8,106.3 392.1,107.1 392.4,108.0 392.7,108.8 392.9,109.6 393.2,110.3 393.5,110.9 393.8,111.5 394.2,112.1 394.5,112.7 394.8,113.1 395.1,113.4 395.4,113.6 395.7,113.7 395.9,113.8 396.2,113.9 396.5,113.9 396.8,113.8 397.1,113.8 397.4,113.7 397.7,113.6 397.9,113.6 398.3,113.5 398.6,113.4 398.9,113.3 399.2,113.2 399.5,113.1 399.8,113.0 400.1,112.8 400.5,112.7 400.8,112.6 401.1,112.5 401.4,112.3 401.7,112.2 402.0,112.1 402.3,112.0 402.7,111.8 403.0,111.7 403.3,111.6 403.6,111.5 403.9,111.3 404.2,111.2 404.5,111.1 404.8,110.9 405.2,110.8 405.5,110.7 405.8,110.5 406.1,110.4 406.4,110.2 406.7,110.1 407.0,110.0 407.3,109.8 407.6,109.7 408.0,109.5 408.3,109.4 408.6,109.2 408.9,109.1 409.2,108.9 409.5,108.8 409.8,108.7 410.1,108.5 410.5,108.4 410.8,108.2 411.1,108.1 411.4,107.9 411.7,107.8 412.0,107.7 412.3,107.5 412.6,107.4 412.9,107.3 413.3,107.1 413.6,107.0 413.9,106.9 414.2,106.7 414.5,106.6 414.8,106.5 415.1,106.4 415.4,106.2 415.8,106.1 416.1,106.0 416.4,105.9 416.7,105.8 417.0,105.7 417.3,105.6 417.6,105.5 417.9,105.3 418.2,105.2 418.6,105.1 418.9,105.0 419.2,104.9 419.5,104.8 419.8,104.7 420.1,104.6 420.4,104.5 420.7,104.4 421.0,104.3 421.3,104.2 421.7,104.1 422.0,104.0 422.3,103.9 422.6,103.8 422.9,103.7 423.2,103.6 423.5,103.5 423.8,103.4 424.1,103.3 424.5,103.2 424.8,103.1 425.1,103.0 425.4,102.9 425.7,102.8 426.0,102.7 426.3,102.6 426.6,102.5 426.9,102.4 427.2,102.4 427.6,102.3 427.9,102.2 428.2,102.1 428.5,102.0 428.8,101.9 429.1,101.8 429.4,101.8 429.7,101.7 430.0,101.6 430.4,101.5 430.7,101.4 431.0,101.4 431.3,101.3 431.6,101.2 431.9,101.2 432.2,101.1 432.5,101.0 432.8,100.9 433.2,100.9 433.5,100.8 433.8,100.8 434.1,100.7 434.4,100.6 434.7,100.6 435.0,100.5 435.3,100.5 435.6,100.4 436.0,100.4 436.3,100.3 436.6,100.3 436.9,100.2 437.2,100.2 437.5,100.1 437.8,100.1 438.1,100.0 438.5,100.0 438.8,99.9 439.1,99.9 439.4,99.8 439.7,99.8 440.0,99.7 440.3,99.7 440.6,99.7 440.9,99.6 441.3,99.6 441.6,99.5 441.9,99.5 442.2,99.4 442.5,99.4 442.8,99.4 443.1,99.3 443.4,99.3 443.8,99.3 444.1,99.2 444.4,99.2 444.7,99.1 445.0,99.1 445.3,99.1 445.6,99.0 445.9,99.0 446.3,99.0 446.6,98.9 446.9,98.9 447.2,98.9 447.5,98.8 447.8,98.8 448.1,98.8 448.4,98.7 448.8,98.7 449.1,98.7 449.4,98.6 449.7,98.6 450.0,98.6 450.3,98.5 450.6,98.5 450.9,98.5 451.3,98.4 451.6,98.4 451.9,98.4 452.2,98.3 452.5,98.3 452.8,98.3 453.1,98.2 453.4,98.2 453.8,98.2 454.1,98.1 454.4,98.1 454.7,98.1 455.0,98.0 455.3,98.0 455.6,98.0 455.9,97.9 456.3,97.9 456.6,97.9 456.9,97.8 457.2,97.8 457.5,97.8 457.8,97.7 458.1,97.7 458.4,97.6 458.8,97.6 459.1,97.6 459.4,97.5 459.7,97.5 460.0,97.5 460.3,97.4 460.6,97.4 461.2,96.7 461.4,78.1 461.9,88.0 463.6,97.9 463.9,98.2 464.2,98.5 464.6,98.8 464.9,99.1 465.2,99.4 465.5,99.6 465.8,99.9 466.1,100.1 466.5,100.4 466.8,100.6 467.1,100.8 467.4,101.1 467.7,101.3 468.0,101.5 468.3,101.7 468.7,101.9 469.0,102.0 469.3,102.2 469.6,102.4 469.9,102.6 470.2,102.7 470.5,102.9 470.9,103.0 471.2,103.2 471.5,103.3 471.8,103.4 472.1,103.6 472.4,103.7 472.8,103.8 473.1,103.9 473.4,104.0 473.7,104.1 474.0,104.2 474.3,104.3 474.6,104.4 475.0,104.5 475.3,104.6 475.6,104.7 475.9,104.8 476.2,104.9 476.5,104.9 476.8,105.0 477.2,105.1 477.5,105.2 477.8,105.2 478.1,105.3 478.4,105.4 478.7,105.4 479.1,105.5 479.4,105.5 479.7,105.6 480.0,105.6 480.3,105.7" fill="none" stroke="#000" stroke-width="1.0" stroke-linejoin="round" stroke-linecap="round" />
<polyline points="388.5,112.2 389.1,106.5 390.6,104.2 390.9,105.0 391.2,105.8 391.5,106.6 391.8,107.5 392.1,108.3 392.4,109.1 392.7,109.9 393.0,110.7 393.3,111.5 393.6,112.2 393.9,112.9 394.2,113.6 394.5,114.2 394.8,114.9 395.1,115.5 395.4,116.1 395.7,116.6 396.1,116.9 396.4,117.1 396.7,117.3 397.0,117.5 397.3,117.6 397.6,117.6 397.9,117.6 398.3,117.6 398.6,117.6 398.9,117.5 399.2,117.5 399.5,117.4 399.8,117.4 400.1,117.3 400.5,117.3 400.8,117.2 401.1,117.2 401.4,117.1 401.7,117.0 402.0,117.0 402.4,116.9 402.7,116.8 403.0,116.8 403.3,116.7 403.6,116.6 403.9,116.6 404.2,116.5 404.6,116.4 404.9,116.4 405.2,116.3 405.5,116.2 405.8,116.2 406.1,116.1 406.4,116.0 406.7,115.9 407.1,115.9 407.4,115.8 407.7,115.7 408.0,115.6 408.3,115.6 408.6,115.5 408.9,115.4 409.2,115.3 409.5,115.2 409.9,115.1 410.2,115.1 410.5,115.0 410.8,114.9 411.1,114.8 411.4,114.7 411.7,114.6 412.0,114.6 412.3,114.5 412.6,114.4 413.0,114.3 413.3,114.2 413.6,114.1 413.9,114.0 414.2,114.0 414.5,113.9 414.8,113.8 415.1,113.7 415.4,113.6 415.8,113.5 416.1,113.5 416.4,113.4 416.7,113.3 417.0,113.2 417.3,113.1 417.6,113.1 417.9,113.0 418.2,112.9 418.6,112.8 418.9,112.7 419.2,112.6 419.5,112.6 419.8,112.5 420.1,112.4 420.4,112.3 420.7,112.2 421.0,112.1 421.3,112.1 421.7,112.0 422.0,111.9 422.3,111.8 422.6,111.7 422.9,111.6 423.2,111.6 423.5,111.5 423.8,111.4 424.1,111.3 424.5,111.2 424.8,111.1 425.1,111.1 425.4,111.0 425.7,110.9 426.0,110.8 426.3,110.7 426.6,110.6 426.9,110.6 427.2,110.5 427.6,110.4 427.9,110.3 428.2,110.2 428.5,110.2 428.8,110.1 429.1,110.0 429.4,109.9 429.7,109.8 430.0,109.8 430.4,109.7 430.7,109.6 431.0,109.5 431.3,109.5 431.6,109.4 431.9,109.3 432.2,109.3 432.5,109.2 432.8,109.1 433.2,109.1 433.5,109.0 433.8,108.9 434.1,108.9 434.4,108.8 434.7,108.7 435.0,108.7 435.3,108.6 435.6,108.6 436.0,108.5 436.3,108.4 436.6,108.4 436.9,108.3 437.2,108.3 437.5,108.2 437.8,108.2 438.1,108.1 438.5,108.0 438.8,108.0 439.1,107.9 439.4,107.9 439.7,107.8 440.0,107.8 440.3,107.7 440.6,107.7 440.9,107.6 441.3,107.6 441.6,107.5 441.9,107.5 442.2,107.4 442.5,107.4 442.8,107.3 443.1,107.3 443.4,107.2 443.8,107.2 444.1,107.1 444.4,107.1 444.7,107.0 445.0,107.0 445.3,106.9 445.6,106.9 445.9,106.8 446.3,106.8 446.6,106.8 446.9,106.7 447.2,106.7 447.5,106.6 447.8,106.6 448.1,106.5 448.4,106.5 448.8,106.4 449.1,106.4 449.4,106.4 449.7,106.3 450.0,106.3 450.3,106.2 450.6,106.2 450.9,106.1 451.3,106.1 451.6,106.0 451.9,106.0 452.2,106.0 452.5,105.9 452.8,105.9 453.1,105.8 453.4,105.8 453.8,105.7 454.1,105.7 454.4,105.6 454.7,105.6 455.0,105.6 455.3,105.5 455.6,105.5 455.9,105.4 456.3,105.4 456.6,105.3 456.9,105.3 457.2,105.2 457.5,105.2 457.8,105.2 458.1,105.1 458.4,105.1 458.8,105.0 459.1,105.0 459.4,104.9 459.7,104.9 460.0,104.8 460.3,104.8 460.6,104.7 461.2,104.1 461.4,90.2 461.9,97.4 463.6,104.5 463.9,104.7 464.2,104.9 464.6,105.1 464.9,105.3 465.2,105.5 465.5,105.6 465.8,105.8 466.1,106.0 466.5,106.1 466.8,106.3 467.1,106.4 467.4,106.5 467.7,106.7 468.0,106.8 468.3,106.9 468.7,107.0 469.0,107.1 469.3,107.3 469.6,107.4 469.9,107.5 470.2,107.6 470.5,107.7 470.9,107.7 471.2,107.8 471.5,107.9 471.8,108.0 472.1,108.1 472.4,108.2 472.8,108.2 473.1,108.3 473.4,108.4 473.7,108.4 474.0,108.5 474.3,108.6 474.6,108.6 475.0,108.7 475.3,108.7 475.6,108.8 475.9,108.8 476.2,108.9 476.5,108.9 476.8,109.0 477.2,109.0 477.5,109.1 477.8,109.1 478.1,109.2 478.4,109.2 478.7,109.2 479.1,109.3 479.4,109.3 479.7,109.3 480.0,109.4 480.3,109.4" fill="none" stroke="#000" stroke-width="1.0" stroke-linejoin="round" stroke-linecap="round" />
<polyline points="386.1,121.1 386.9,124.8 387.2,115.6 387.7,119.6 388.5,112.9 389.1,106.9 390.6,106.2 390.9,106.9 391.2,107.7 391.5,108.5 391.8,109.3 392.1,110.1 392.4,110.8 392.7,111.6 393.0,112.4 393.3,113.1 393.6,113.8 393.9,114.4 394.2,115.0 394.5,115.6 394.8,116.1 395.1,116.6 395.4,117.1 395.7,117.6 396.1,118.0 396.4,118.4 396.7,118.7 397.0,118.9 397.3,119.0 397.6,119.2 397.9,119.3 398.3,119.4 398.6,119.5 398.9,119.5 399.2,119.5 399.5,119.5 399.8,119.4 400.1,119.4 400.5,119.4 400.8,119.3 401.1,119.3 401.4,119.2 401.7,119.2 402.0,119.1 402.4,119.1 402.7,119.0 403.0,119.0 403.3,118.9 403.6,118.9 403.9,118.8 404.2,118.8 404.6,118.7 404.9,118.7 405.2,118.6 405.5,118.6 405.8,118.5 406.1,118.5 406.4,118.4 406.7,118.4 407.1,118.3 407.4,118.3 407.7,118.2 408.0,118.2 408.3,118.1 408.6,118.1 408.9,118.1 409.2,118.0 409.5,118.0 409.9,117.9 410.2,117.9 410.5,117.8 410.8,117.8 411.1,117.8 411.4,117.7 411.7,117.7 412.0,117.6 412.3,117.6 412.6,117.5 413.0,117.5 413.3,117.4 413.6,117.4 413.9,117.4 414.2,117.3 414.5,117.3 414.8,117.2 415.1,117.2 415.4,117.1 415.8,117.1 416.1,117.0 416.4,117.0 416.7,116.9 417.0,116.9 417.3,116.8 417.6,116.8 417.9,116.7 418.2,116.7 418.6,116.6 418.9,116.6 419.2,116.5 419.5,116.5 419.8,116.4 420.1,116.4 420.4,116.3 420.7,116.3 421.0,116.2 421.3,116.2 421.7,116.1 422.0,116.1 422.3,116.0 422.6,115.9 422.9,115.9 423.2,115.8 423.5,115.8 423.8,115.7 424.1,115.7 424.5,115.6 424.8,115.5 425.1,115.5 425.4,115.4 425.7,115.4 426.0,115.3 426.3,115.3 426.6,115.2 426.9,115.2 427.2,115.1 427.6,115.0 427.9,115.0 428.2,114.9 428.5,114.9 428.8,114.8 429.1,114.8 429.4,114.7 429.7,114.7 430.0,114.6 430.4,114.6 430.7,114.5 431.0,114.5 431.3,114.4 431.6,114.4 431.9,114.3 432.2,114.3 432.5,114.2 432.8,114.2 433.2,114.1 433.5,114.1 433.8,114.0 434.1,114.0 434.4,114.0 434.7,113.9 435.0,113.9 435.3,113.8 435.6,113.8 436.0,113.8 436.3,113.7 436.6,113.7 436.9,113.7 437.2,113.6 437.5,113.6 437.8,113.6 438.1,113.5 438.5,113.5 438.8,113.4 439.1,113.4 439.4,113.4 439.7,113.3 440.0,113.3 440.3,113.3 440.6,113.2 440.9,113.2 441.3,113.2 441.6,113.2 441.9,113.1 442.2,113.1 442.5,113.1 442.8,113.0 443.1,113.0 443.4,113.0 443.8,112.9 444.1,112.9 444.4,112.9 444.7,112.8 445.0,112.8 445.3,112.8 445.6,112.8 445.9,112.7 446.3,112.7 446.6,112.7 446.9,112.6 447.2,112.6 447.5,112.6 447.8,112.6 448.1,112.5 448.4,112.5 448.8,112.5 449.1,112.5 449.4,112.4 449.7,112.4 450.0,112.4 450.3,112.3 450.6,112.3 450.9,112.3 451.3,112.3 451.6,112.2 451.9,112.2 452.2,112.2 452.5,112.1 452.8,112.1 453.1,112.1 453.4,112.1 453.8,112.0 454.1,112.0 454.4,112.0 454.7,112.0 455.0,111.9 455.3,111.9 455.6,111.9 455.9,111.8 456.3,111.8 456.6,111.8 456.9,111.8 457.2,111.7 457.5,111.7 457.8,111.7 458.1,111.6 458.4,111.6 458.8,111.6 459.1,111.6 459.4,111.5 459.7,111.5 460.0,111.5 460.3,111.4 460.6,111.4 461.2,110.7 461.4,100.9 461.9,106.6 463.6,112.3 463.9,112.4 464.2,112.5 464.6,112.5 464.9,112.6 465.2,112.6 465.5,112.7 465.8,112.7 466.1,112.8 466.5,112.8 466.8,112.9 467.1,112.9 467.4,113.0 467.7,113.0 468.0,113.1 468.3,113.1 468.7,113.1 469.0,113.2 469.3,113.2 469.6,113.2 469.9,113.3 470.2,113.3 470.5,113.3 470.9,113.3 471.2,113.4 471.5,113.4 471.8,113.4 472.1,113.5 472.4,113.5 472.8,113.5 473.1,113.5 473.4,113.5 473.7,113.6 474.0,113.6 474.3,113.6 474.6,113.6 475.0,113.6 475.3,113.7 475.6,113.7 475.9,113.7 476.2,113.7 476.5,113.7 476.8,113.7 477.2,113.7 477.5,113.8 477.8,113.8 478.1,113.8 478.4,113.8 478.7,113.8 479.1,113.8 479.4,113.8 479.7,113.8 480.0,113.9 480.3,113.9" fill="none" stroke="#000" stroke-width="1.0" stroke-linejoin="round" stroke-linecap="round" />
<text transform="translate(487.20,83.70) scale(1.0,1)" font-size="5.2" font-weight="normal" text-anchor="start">688 nM</text>
<text transform="translate(487.20,89.62) scale(1.0,1)" font-size="5.2" font-weight="normal" text-anchor="start">344 nM</text>
<text transform="translate(487.20,95.54) scale(1.0,1)" font-size="5.2" font-weight="normal" text-anchor="start">172 nM</text>
<text transform="translate(487.20,101.46) scale(1.0,1)" font-size="5.2" font-weight="normal" text-anchor="start">86 nM</text>
<text transform="translate(487.20,107.38) scale(1.0,1)" font-size="5.2" font-weight="normal" text-anchor="start">43 nM</text>
<text transform="translate(487.20,113.30) scale(1.0,1)" font-size="5.2" font-weight="normal" text-anchor="start">21 nM</text>
<text transform="translate(487.20,119.22) scale(1.0,1)" font-size="5.2" font-weight="normal" text-anchor="start">11 nM</text>
<line x1="44.00" y1="209.50" x2="44.00" y2="332.50" stroke="#000" stroke-width="2" />
<line x1="43.00" y1="331.50" x2="243.50" y2="331.50" stroke="#000" stroke-width="2" />
<line x1="39.00" y1="331.50" x2="44.00" y2="331.50" stroke="#000" stroke-width="1.5" />
<text transform="translate(38.70,334.60) scale(0.97,1)" font-size="9" font-weight="bold" text-anchor="end" stroke="#000" stroke-width="0.3">0</text>
<line x1="39.00" y1="312.63" x2="44.00" y2="312.63" stroke="#000" stroke-width="1.5" />
<text transform="translate(38.70,315.73) scale(0.97,1)" font-size="9" font-weight="bold" text-anchor="end" stroke="#000" stroke-width="0.3">5</text>
<line x1="39.00" y1="293.76" x2="44.00" y2="293.76" stroke="#000" stroke-width="1.5" />
<text transform="translate(38.70,296.86) scale(0.97,1)" font-size="9" font-weight="bold" text-anchor="end" stroke="#000" stroke-width="0.3">10</text>
<line x1="39.00" y1="274.89" x2="44.00" y2="274.89" stroke="#000" stroke-width="1.5" />
<text transform="translate(38.70,277.99) scale(0.97,1)" font-size="9" font-weight="bold" text-anchor="end" stroke="#000" stroke-width="0.3">15</text>
<line x1="39.00" y1="256.02" x2="44.00" y2="256.02" stroke="#000" stroke-width="1.5" />
<text transform="translate(38.70,259.12) scale(0.97,1)" font-size="9" font-weight="bold" text-anchor="end" stroke="#000" stroke-width="0.3">20</text>
<line x1="39.00" y1="237.15" x2="44.00" y2="237.15" stroke="#000" stroke-width="1.5" />
<text transform="translate(38.70,240.25) scale(0.97,1)" font-size="9" font-weight="bold" text-anchor="end" stroke="#000" stroke-width="0.3">25</text>
<line x1="39.00" y1="218.28" x2="44.00" y2="218.28" stroke="#000" stroke-width="1.5" />
<text transform="translate(38.70,221.38) scale(0.97,1)" font-size="9" font-weight="bold" text-anchor="end" stroke="#000" stroke-width="0.3">30</text>
<line x1="44.00" y1="331.50" x2="44.00" y2="336.00" stroke="#000" stroke-width="1.5" />
<text transform="translate(44.00,345.80) scale(0.97,1)" font-size="9" font-weight="bold" text-anchor="middle" stroke="#000" stroke-width="0.3">0</text>
<line x1="77.20" y1="331.50" x2="77.20" y2="336.00" stroke="#000" stroke-width="1.5" />
<text transform="translate(77.20,345.80) scale(0.97,1)" font-size="9" font-weight="bold" text-anchor="middle" stroke="#000" stroke-width="0.3">250</text>
<line x1="110.40" y1="331.50" x2="110.40" y2="336.00" stroke="#000" stroke-width="1.5" />
<text transform="translate(110.40,345.80) scale(0.97,1)" font-size="9" font-weight="bold" text-anchor="middle" stroke="#000" stroke-width="0.3">500</text>
<line x1="143.60" y1="331.50" x2="143.60" y2="336.00" stroke="#000" stroke-width="1.5" />
<text transform="translate(143.60,345.80) scale(0.97,1)" font-size="9" font-weight="bold" text-anchor="middle" stroke="#000" stroke-width="0.3">750</text>
<line x1="176.80" y1="331.50" x2="176.80" y2="336.00" stroke="#000" stroke-width="1.5" />
<text transform="translate(176.80,345.80) scale(0.97,1)" font-size="9" font-weight="bold" text-anchor="middle" stroke="#000" stroke-width="0.3">1000</text>
<line x1="210.00" y1="331.50" x2="210.00" y2="336.00" stroke="#000" stroke-width="1.5" />
<text transform="translate(210.00,345.80) scale(0.97,1)" font-size="9" font-weight="bold" text-anchor="middle" stroke="#000" stroke-width="0.3">1250</text>
<line x1="243.20" y1="331.50" x2="243.20" y2="336.00" stroke="#000" stroke-width="1.5" />
<text transform="translate(243.20,345.80) scale(0.97,1)" font-size="9" font-weight="bold" text-anchor="middle" stroke="#000" stroke-width="0.3">1500</text>
<text transform="translate(20.50,264.20) rotate(-90) scale(0.85,1)" font-size="12" font-weight="bold" text-anchor="middle" stroke="#000" stroke-width="0.25">RU</text>
<text transform="translate(143.00,361.50) scale(0.96,1)" font-size="11.2" font-weight="bold" text-anchor="middle" stroke="#000" stroke-width="0.25">rFVIIa (nM)</text>
<polyline points="44.0,331.5 44.3,328.7 44.5,326.1 44.8,323.5 45.1,321.1 45.3,318.8 45.6,316.6 45.9,314.5 46.1,312.4 46.4,310.5 46.7,308.6 46.9,306.8 47.2,305.0 47.5,303.4 47.7,301.8 48.0,300.2 48.2,298.7 48.5,297.2 48.8,295.8 49.0,294.5 49.3,293.1 49.6,291.9 49.8,290.6 50.1,289.4 50.4,288.3 50.6,287.2 50.9,286.1 51.2,285.0 51.4,284.0 51.7,283.0 52.0,282.0 52.2,281.1 52.5,280.2 52.8,279.3 53.0,278.4 53.3,277.5 53.6,276.7 53.8,275.9 54.1,275.1 54.4,274.4 54.6,273.6 54.9,272.9 55.2,272.2 55.4,271.5 55.7,270.8 56.0,270.1 56.2,269.5 56.5,268.9 56.7,268.2 57.0,267.6 57.3,267.1 57.5,266.5 57.8,265.9 58.1,265.4 58.3,264.8 58.6,264.3 58.9,263.8 59.1,263.3 59.4,262.8 59.7,262.3 59.9,261.8 60.2,261.3 60.5,260.9 60.7,260.4 61.0,260.0 61.3,259.5 61.5,259.1 61.8,258.7 62.1,258.3 62.3,257.9 62.6,257.5 62.9,257.1 63.1,256.7 63.4,256.3 63.7,255.9 63.9,255.6 64.2,255.2 64.5,254.9 64.7,254.5 65.0,254.2 65.2,253.8 65.5,253.5 65.8,253.2 66.0,252.9 66.3,252.6 66.6,252.3 66.8,251.9 67.1,251.7 67.4,251.4 67.6,251.1 67.9,250.8 68.2,250.5 68.4,250.2 68.7,250.0 69.0,249.7 69.2,249.4 69.5,249.2 69.8,248.9 70.0,248.6 70.3,248.4 70.6,248.2 70.8,247.9 71.1,247.7 71.4,247.4 71.6,247.2 71.9,247.0 72.2,246.7 72.4,246.5 72.7,246.3 73.0,246.1 73.2,245.9 73.5,245.7 73.7,245.4 74.0,245.2 74.3,245.0 74.5,244.8 74.8,244.6 75.1,244.4 75.3,244.2 75.6,244.1 75.9,243.9 76.1,243.7 76.4,243.5 76.7,243.3 76.9,243.1 77.2,243.0 77.5,242.8 77.7,242.6 78.0,242.4 78.3,242.3 78.5,242.1 78.8,241.9 79.1,241.8 79.3,241.6 79.6,241.5 79.9,241.3 80.1,241.1 80.4,241.0 80.7,240.8 80.9,240.7 81.2,240.5 81.4,240.4 81.7,240.2 82.0,240.1 82.2,239.9 82.5,239.8 82.8,239.7 83.0,239.5 83.3,239.4 83.6,239.3 83.8,239.1 84.1,239.0 84.4,238.9 84.6,238.7 84.9,238.6 85.2,238.5 85.4,238.3 85.7,238.2 86.0,238.1 86.2,238.0 86.5,237.9 86.8,237.7 87.0,237.6 87.3,237.5 87.6,237.4 87.8,237.3 88.1,237.2 88.4,237.0 88.6,236.9 88.9,236.8 89.2,236.7 89.4,236.6 89.7,236.5 89.9,236.4 90.2,236.3 90.5,236.2 90.7,236.1 91.0,236.0 91.3,235.9 91.5,235.8 91.8,235.7 92.1,235.6 92.3,235.5 92.6,235.4 92.9,235.3 93.1,235.2 93.4,235.1 93.7,235.0 93.9,234.9 94.2,234.8 94.5,234.7 94.7,234.6 95.0,234.5 95.3,234.4 95.5,234.3 95.8,234.3 96.1,234.2 96.3,234.1 96.6,234.0 96.9,233.9 97.1,233.8 97.4,233.7 97.7,233.7 97.9,233.6 98.2,233.5 98.4,233.4 98.7,233.3 99.0,233.3 99.2,233.2 99.5,233.1 99.8,233.0 100.0,232.9 100.3,232.9 100.6,232.8 100.8,232.7 101.1,232.6 101.4,232.6 101.6,232.5 101.9,232.4 102.2,232.4 102.4,232.3 102.7,232.2 103.0,232.1 103.2,232.1 103.5,232.0 103.8,231.9 104.0,231.9 104.3,231.8 104.6,231.7 104.8,231.7 105.1,231.6 105.4,231.5 105.6,231.5 105.9,231.4 106.2,231.3 106.4,231.3 106.7,231.2 106.9,231.1 107.2,231.1 107.5,231.0 107.7,230.9 108.0,230.9 108.3,230.8 108.5,230.8 108.8,230.7 109.1,230.6 109.3,230.6 109.6,230.5 109.9,230.5 110.1,230.4 110.4,230.4 110.7,230.3 110.9,230.2 111.2,230.2 111.5,230.1 111.7,230.1 112.0,230.0 112.3,230.0 112.5,229.9 112.8,229.9 113.1,229.8 113.3,229.7 113.6,229.7 113.9,229.6 114.1,229.6 114.4,229.5 114.6,229.5 114.9,229.4 115.2,229.4 115.4,229.3 115.7,229.3 116.0,229.2 116.2,229.2 116.5,229.1 116.8,229.1 117.0,229.0 117.3,229.0 117.6,228.9 117.8,228.9 118.1,228.8 118.4,228.8 118.6,228.7 118.9,228.7 119.2,228.6 119.4,228.6 119.7,228.6 120.0,228.5 120.2,228.5 120.5,228.4 120.8,228.4 121.0,228.3 121.3,228.3 121.6,228.2 121.8,228.2 122.1,228.2 122.4,228.1 122.6,228.1 122.9,228.0 123.1,228.0 123.4,227.9 123.7,227.9 123.9,227.9 124.2,227.8 124.5,227.8 124.7,227.7 125.0,227.7 125.3,227.6 125.5,227.6 125.8,227.6 126.1,227.5 126.3,227.5 126.6,227.4 126.9,227.4 127.1,227.4 127.4,227.3 127.7,227.3 127.9,227.3 128.2,227.2 128.5,227.2 128.7,227.1 129.0,227.1 129.3,227.1 129.5,227.0 129.8,227.0 130.1,227.0 130.3,226.9 130.6,226.9 130.9,226.8 131.1,226.8 131.4,226.8 131.6,226.7 131.9,226.7 132.2,226.7 132.4,226.6 132.7,226.6 133.0,226.6 133.2,226.5 133.5,226.5 133.8,226.5 134.0,226.4 134.3,226.4 134.6,226.4 134.8,226.3 135.1,226.3 135.4,226.3 135.6,226.2 135.9,226.2 136.2,226.2 136.4,226.1 136.7,226.1 137.0,226.1 137.2,226.0 137.5,226.0 137.8,226.0 138.0,225.9 138.3,225.9 138.6,225.9 138.8,225.8 139.1,225.8 139.4,225.8 139.6,225.8 139.9,225.7 140.1,225.7 140.4,225.7 140.7,225.6 140.9,225.6 141.2,225.6 141.5,225.5 141.7,225.5 142.0,225.5 142.3,225.5 142.5,225.4 142.8,225.4 143.1,225.4 143.3,225.3 143.6,225.3 143.9,225.3 144.1,225.3 144.4,225.2 144.7,225.2 144.9,225.2 145.2,225.1 145.5,225.1 145.7,225.1 146.0,225.1 146.3,225.0 146.5,225.0 146.8,225.0 147.1,225.0 147.3,224.9 147.6,224.9 147.8,224.9 148.1,224.9 148.4,224.8 148.6,224.8 148.9,224.8 149.2,224.7 149.4,224.7 149.7,224.7 150.0,224.7 150.2,224.6 150.5,224.6 150.8,224.6 151.0,224.6 151.3,224.5 151.6,224.5 151.8,224.5 152.1,224.5 152.4,224.5 152.6,224.4 152.9,224.4 153.2,224.4 153.4,224.4 153.7,224.3 154.0,224.3 154.2,224.3 154.5,224.3 154.8,224.2 155.0,224.2 155.3,224.2 155.6,224.2 155.8,224.1 156.1,224.1 156.3,224.1 156.6,224.1 156.9,224.1 157.1,224.0 157.4,224.0 157.7,224.0 157.9,224.0 158.2,223.9 158.5,223.9 158.7,223.9 159.0,223.9 159.3,223.9 159.5,223.8 159.8,223.8 160.1,223.8 160.3,223.8 160.6,223.7 160.9,223.7 161.1,223.7 161.4,223.7 161.7,223.7 161.9,223.6 162.2,223.6 162.5,223.6 162.7,223.6 163.0,223.6 163.3,223.5 163.5,223.5 163.8,223.5 164.1,223.5 164.3,223.5 164.6,223.4 164.8,223.4 165.1,223.4 165.4,223.4 165.6,223.4 165.9,223.3 166.2,223.3 166.4,223.3 166.7,223.3 167.0,223.3 167.2,223.2 167.5,223.2 167.8,223.2 168.0,223.2 168.3,223.2 168.6,223.1 168.8,223.1 169.1,223.1 169.4,223.1 169.6,223.1 169.9,223.1 170.2,223.0 170.4,223.0 170.7,223.0 171.0,223.0 171.2,223.0 171.5,222.9 171.8,222.9 172.0,222.9 172.3,222.9 172.6,222.9 172.8,222.9 173.1,222.8 173.3,222.8 173.6,222.8 173.9,222.8 174.1,222.8 174.4,222.8 174.7,222.7 174.9,222.7 175.2,222.7 175.5,222.7 175.7,222.7 176.0,222.7 176.3,222.6 176.5,222.6 176.8,222.6 177.1,222.6 177.3,222.6 177.6,222.6 177.9,222.5 178.1,222.5 178.4,222.5 178.7,222.5 178.9,222.5 179.2,222.5 179.5,222.4 179.7,222.4 180.0,222.4 180.3,222.4 180.5,222.4 180.8,222.4 181.0,222.3 181.3,222.3 181.6,222.3 181.8,222.3 182.1,222.3 182.4,222.3 182.6,222.2 182.9,222.2 183.2,222.2 183.4,222.2 183.7,222.2 184.0,222.2 184.2,222.2 184.5,222.1 184.8,222.1 185.0,222.1 185.3,222.1 185.6,222.1 185.8,222.1 186.1,222.1 186.4,222.0 186.6,222.0 186.9,222.0 187.2,222.0 187.4,222.0 187.7,222.0 188.0,222.0 188.2,221.9 188.5,221.9 188.8,221.9 189.0,221.9 189.3,221.9 189.5,221.9 189.8,221.9 190.1,221.8 190.3,221.8 190.6,221.8 190.9,221.8 191.1,221.8 191.4,221.8 191.7,221.8 191.9,221.7 192.2,221.7 192.5,221.7 192.7,221.7 193.0,221.7 193.3,221.7 193.5,221.7 193.8,221.6 194.1,221.6 194.3,221.6 194.6,221.6 194.9,221.6 195.1,221.6 195.4,221.6 195.7,221.6 195.9,221.5 196.2,221.5 196.5,221.5 196.7,221.5 197.0,221.5 197.3,221.5 197.5,221.5 197.8,221.5 198.0,221.4 198.3,221.4 198.6,221.4 198.8,221.4 199.1,221.4 199.4,221.4 199.6,221.4 199.9,221.3 200.2,221.3 200.4,221.3 200.7,221.3 201.0,221.3 201.2,221.3 201.5,221.3 201.8,221.3 202.0,221.3 202.3,221.2 202.6,221.2 202.8,221.2 203.1,221.2 203.4,221.2 203.6,221.2 203.9,221.2 204.2,221.2 204.4,221.1 204.7,221.1 205.0,221.1 205.2,221.1 205.5,221.1 205.8,221.1 206.0,221.1 206.3,221.1 206.5,221.1 206.8,221.0 207.1,221.0 207.3,221.0 207.6,221.0 207.9,221.0 208.1,221.0 208.4,221.0 208.7,221.0 208.9,221.0 209.2,220.9 209.5,220.9 209.7,220.9 210.0,220.9" fill="none" stroke="#000" stroke-width="2" stroke-linejoin="round" stroke-linecap="round" />
<rect x="46.91" y="281.93" width="4.8" height="4.8" fill="#000"/>
<rect x="51.96" y="273.62" width="4.8" height="4.8" fill="#000"/>
<rect x="62.32" y="261.92" width="4.8" height="4.8" fill="#000"/>
<rect x="83.03" y="229.09" width="4.8" height="4.8" fill="#000"/>
<rect x="124.60" y="210.97" width="4.8" height="4.8" fill="#000"/>
<rect x="207.60" y="230.22" width="4.8" height="4.8" fill="#000"/>
<rect x="41.75" y="329.25" width="4.5" height="4.5" fill="#000"/>
<line x1="313.00" y1="212.40" x2="313.00" y2="345.60" stroke="#000" stroke-width="1.6" />
<line x1="310.00" y1="312.40" x2="512.50" y2="312.40" stroke="#000" stroke-width="1.3" />
<line x1="309.00" y1="213.10" x2="313.00" y2="213.10" stroke="#000" stroke-width="1.4" />
<text transform="translate(308.70,216.30) scale(0.95,1)" font-size="9" font-weight="bold" text-anchor="end" stroke="#000" stroke-width="0.3">75</text>
<line x1="309.00" y1="246.20" x2="313.00" y2="246.20" stroke="#000" stroke-width="1.4" />
<text transform="translate(308.70,249.40) scale(0.95,1)" font-size="9" font-weight="bold" text-anchor="end" stroke="#000" stroke-width="0.3">50</text>
<line x1="309.00" y1="279.30" x2="313.00" y2="279.30" stroke="#000" stroke-width="1.4" />
<text transform="translate(308.70,282.50) scale(0.95,1)" font-size="9" font-weight="bold" text-anchor="end" stroke="#000" stroke-width="0.3">25</text>
<line x1="309.00" y1="312.40" x2="313.00" y2="312.40" stroke="#000" stroke-width="1.4" />
<text transform="translate(308.70,315.60) scale(0.95,1)" font-size="9" font-weight="bold" text-anchor="end" stroke="#000" stroke-width="0.3">0</text>
<line x1="309.00" y1="345.50" x2="313.00" y2="345.50" stroke="#000" stroke-width="1.4" />
<text transform="translate(308.70,348.70) scale(0.95,1)" font-size="9" font-weight="bold" text-anchor="end" stroke="#000" stroke-width="0.3">-25</text>
<line x1="370.00" y1="312.40" x2="370.00" y2="315.90" stroke="#000" stroke-width="1.3" />
<text transform="translate(370.00,326.80) scale(0.93,1)" font-size="9.2" font-weight="bold" text-anchor="middle" stroke="#000" stroke-width="0.3">100</text>
<line x1="427.00" y1="312.40" x2="427.00" y2="315.90" stroke="#000" stroke-width="1.3" />
<text transform="translate(427.00,326.80) scale(0.93,1)" font-size="9.2" font-weight="bold" text-anchor="middle" stroke="#000" stroke-width="0.3">200</text>
<line x1="484.00" y1="312.40" x2="484.00" y2="315.90" stroke="#000" stroke-width="1.3" />
<text transform="translate(484.00,326.80) scale(0.93,1)" font-size="9.2" font-weight="bold" text-anchor="middle" stroke="#000" stroke-width="0.3">300</text>
<text transform="translate(411.50,342.20) scale(0.96,1)" font-size="11.2" font-weight="bold" text-anchor="middle" stroke="#000" stroke-width="0.25">Time (sec)</text>
<polyline points="313.0,312.2 313.3,309.2 313.6,305.8 313.9,302.7 314.1,299.5 314.4,295.9 314.7,292.7 315.0,290.1 315.3,286.6 315.5,283.0 315.8,279.8 316.1,276.0 316.3,273.4 316.6,271.3 316.9,270.6 317.1,270.6 317.4,271.5 317.7,272.6 317.9,273.5 318.2,274.8 318.4,275.8 318.7,276.4 319.0,277.7 319.3,278.6 319.6,279.4 319.8,280.2 320.1,281.6 320.4,282.3 320.7,283.4 321.0,284.3 321.3,285.0 321.6,285.8 321.8,286.1 322.1,286.8 322.4,287.0 322.7,287.6 323.0,288.0 323.3,287.9 323.5,288.3 323.8,288.7 324.1,289.5 324.4,289.4 324.7,289.8 325.0,289.9 325.3,290.3 325.5,290.4 325.8,290.5 326.1,290.8 326.4,290.9 326.7,291.2 327.0,291.1 327.2,291.2 327.5,291.1 327.8,291.2 328.1,290.9 328.4,290.6 328.7,290.9 329.0,290.9 329.2,290.7 329.5,290.4 329.8,290.4 330.1,290.0 330.4,290.3 330.7,290.0 331.0,289.8 331.2,289.5 331.5,289.9 331.8,289.9 332.4,288.8 332.9,288.8 333.5,288.0 334.1,287.3 334.7,286.9 335.2,286.7 335.8,286.3 336.4,285.3 336.9,285.2 337.5,284.4 338.1,284.3 338.6,283.6 339.2,283.5 339.8,283.1 340.4,282.4 340.9,282.2 341.5,281.4 342.1,280.8 342.6,280.7 343.2,280.0 343.8,279.7 344.4,279.4 344.9,279.1 345.5,278.5 346.1,278.0 346.6,278.2 347.2,277.5 347.8,277.5 348.3,277.1 348.9,276.4 349.5,276.1 350.1,275.8 350.6,275.5 351.2,275.2 351.8,274.8 352.3,274.5 352.9,274.4 353.5,273.8 354.0,273.5 354.6,273.3 355.2,272.7 355.8,272.5 356.3,272.6 356.9,272.0 357.5,271.7 358.0,271.1 358.6,271.1 359.2,270.9 359.7,270.3 360.3,270.4 360.9,270.1 361.4,269.5 362.0,269.6 362.6,269.3 363.2,269.1 363.7,268.7 364.3,268.7 364.9,268.4 365.4,267.8 366.0,267.5 366.6,267.7 367.1,267.6 367.7,267.0 368.3,266.9 368.9,266.7 369.4,266.4 370.0,266.2 370.6,265.9 371.1,265.8 371.7,265.7 372.3,265.3 372.9,265.2 373.4,265.2 374.0,264.6 374.6,264.7 375.1,264.6 375.7,264.2 376.3,263.9 376.8,264.1 377.4,263.6 378.0,263.4 378.6,263.4 379.1,263.3 379.7,262.8 380.3,262.8 380.8,262.6 381.4,262.8 382.0,262.4 382.5,262.5 383.1,261.9 383.7,261.8 384.2,261.9 384.8,261.9 385.4,261.5 386.0,261.2 386.5,261.0 387.1,261.1 387.7,260.7 388.2,261.0 388.8,260.9 389.4,260.3 389.9,260.3 390.5,260.4 391.1,260.2 391.7,260.2 392.2,259.8 392.8,259.5 393.4,259.5 393.9,259.7 394.5,259.3 395.1,259.2 395.6,259.1 396.2,259.0 396.8,258.9 397.4,259.1 397.9,258.5 398.5,258.3 399.1,258.8 399.6,258.6 400.2,258.6 400.8,258.2 401.4,258.4 401.9,258.3 402.5,257.7 403.1,258.0 403.6,257.9 404.2,257.7 404.8,257.6 405.3,257.3 405.9,257.3 406.5,257.1 407.1,256.9 407.6,257.2 408.2,256.9 408.8,257.1 409.3,256.6 409.9,257.0 410.5,256.8 411.0,256.9 411.6,256.8 412.2,256.7 412.8,256.4 413.3,256.0 413.9,256.4 414.5,256.0 415.0,256.0 415.6,256.1 416.2,256.0 416.7,255.8 417.3,256.1 417.9,255.8 418.4,255.6 419.0,255.5 419.6,255.8 420.2,255.5 420.7,255.6 421.3,255.3 421.9,255.1 422.4,255.3 423.0,255.4 423.6,254.9 424.1,255.3 424.7,255.3 425.3,255.1 425.9,255.1 426.4,254.6 427.0,254.9 427.6,255.0 428.1,254.4 428.7,254.5 429.3,254.5 429.9,254.6 430.4,254.5 431.0,254.4 431.6,254.6 432.1,254.1 432.7,254.0 433.3,254.0 433.8,254.0 434.4,253.9 435.0,254.4 435.5,254.3 436.1,253.8 436.7,254.0 437.3,253.8 437.8,253.8 438.4,253.8 439.0,253.9 439.5,253.9 440.1,253.7 440.7,253.5 441.2,253.6 441.8,253.4 442.4,253.6 443.0,253.7 443.5,253.5 444.1,253.3 444.7,253.3 445.2,253.4 445.8,253.5 446.4,253.5 446.9,253.3 447.5,253.5 448.1,253.3 448.7,253.2 449.2,253.1 449.8,253.2 450.4,253.3 450.9,253.1 451.5,253.2 452.1,253.0 452.6,252.9 453.2,253.0 453.8,253.1 454.4,252.7 454.9,252.9 455.5,252.8 456.1,253.1 456.6,253.1 457.2,252.7 457.8,253.0 458.4,252.9 458.9,252.6 459.5,252.7 460.1,252.5 460.6,252.9 461.2,252.7 461.8,252.9 462.3,252.8 462.9,252.7 463.5,252.7 463.8,253.3 464.0,253.8 464.3,254.5 464.6,252.8 464.8,249.7 465.1,246.5 465.3,243.3 465.5,241.5 465.8,239.8 466.0,239.0 466.2,238.1 466.5,238.6 466.7,240.4 466.9,241.8 467.2,243.8 467.5,245.3 467.8,247.1 468.0,248.9 468.3,250.3 468.6,251.9 468.9,252.5 469.2,253.9 469.5,254.6 469.8,255.5 470.0,255.8 470.3,256.8 470.6,257.5 470.9,257.6 471.2,258.2 471.5,258.8 471.7,259.4 472.0,259.5 472.3,259.8 472.6,260.2 472.9,260.8 473.2,261.2 473.5,261.3 473.7,261.6 474.0,261.9 474.3,262.1 474.6,262.4 474.9,262.5 475.2,262.9 475.4,263.4 475.7,263.3 476.0,263.7 476.3,263.5 476.6,264.0 476.9,264.3 477.2,264.4 477.4,264.4 477.7,264.6 478.0,264.8 478.3,265.1 478.6,264.8 478.9,264.9 479.2,265.5 479.4,265.7 479.7,265.6 480.0,265.6 480.3,265.9 480.6,265.7 480.9,265.8 481.1,265.9 481.4,266.2 481.7,266.1 482.0,266.1 482.3,266.5 482.6,266.7 482.9,266.3 483.1,266.6 483.4,266.5 483.7,266.8 484.0,266.7 484.3,266.6 484.6,266.6 484.9,266.5 485.1,266.9 485.4,266.9 485.7,266.8" fill="none" stroke="#000" stroke-width="1.35" stroke-linejoin="round" stroke-linecap="round" />
<polyline points="313.0,312.3 313.3,309.2 313.6,306.4 313.9,302.9 314.1,300.4 314.4,297.0 314.7,294.1 315.0,291.2 315.3,288.5 315.5,285.3 315.8,281.9 316.1,278.8 316.3,276.5 316.6,274.9 316.9,273.9 317.1,274.4 317.4,275.3 317.7,276.1 317.9,277.4 318.2,279.0 318.5,281.1 318.7,282.8 319.0,284.7 319.3,286.1 319.6,287.4 319.8,289.1 320.1,291.0 320.4,292.9 320.7,295.3 321.0,297.4 321.3,299.5 321.6,301.1 321.8,303.4 322.1,304.9 322.4,306.7 322.7,308.5 323.0,309.4 323.3,310.6 323.5,312.0 323.8,312.3 324.1,312.8 324.4,313.3 324.7,313.8 325.0,313.8 325.3,314.3 325.5,314.7 325.8,315.0 326.1,315.1 326.4,315.5 326.7,315.9 327.0,315.7 327.2,315.9 327.5,315.7 327.8,315.8 328.1,316.1 328.4,315.8 328.7,316.4 329.0,316.4 329.2,316.0 329.5,316.5 329.8,316.2 330.1,316.5 330.4,316.5 330.7,316.2 331.0,316.5 331.2,316.5 331.5,316.6 331.8,316.2 332.1,316.5 332.4,316.6 332.7,316.3 332.9,316.2 333.2,315.8 333.5,316.0 333.8,315.8 334.1,315.9 334.4,315.8 334.7,315.6 334.9,315.3 335.2,315.4 335.5,315.3 335.8,314.9 336.1,315.3 336.4,315.0 336.7,314.6 336.9,315.0 337.2,314.4 337.5,314.5 337.8,314.7 338.1,314.5 338.4,314.5 338.6,314.5 338.9,314.3 339.2,314.2 339.5,314.1 339.8,314.0 340.1,314.4 340.4,314.4 340.6,314.3 340.9,314.4 341.2,314.1 341.5,314.0 341.8,314.1 342.1,314.4 342.4,313.8 342.6,314.1 342.9,313.9 343.2,314.3 343.5,314.0 343.8,314.0 344.1,314.0 344.4,314.1 344.6,314.2 344.9,313.9 345.2,314.2 345.5,313.7 345.8,313.8 346.1,313.7 346.3,313.7 346.6,314.1 346.9,314.1 347.2,313.7 347.5,313.7 347.8,313.9 348.1,314.1 348.3,314.1 348.6,314.0 348.9,313.9 349.2,313.6 349.5,313.8 349.8,313.7 350.1,313.9 350.3,313.9 350.6,313.6 350.9,313.6 351.2,314.0 351.5,313.5 351.8,314.0 352.0,314.0 352.3,314.0 352.6,313.7 352.9,313.8 353.2,313.8 353.5,313.8 353.8,314.0 354.0,313.8 354.3,313.5 354.6,313.9 354.9,313.6 355.2,313.7 355.5,313.8 355.8,313.3 356.0,313.8 356.3,313.7 356.6,313.5 356.9,313.6 357.2,313.5 357.5,313.3 357.7,313.5 358.0,313.2 358.3,313.5 358.6,313.6 358.9,313.4 359.2,313.5 359.5,313.7 359.7,313.7 360.0,313.2 360.3,313.6 360.6,313.4 360.9,313.1 361.2,313.3 361.4,313.2 361.7,313.0 362.0,313.3 362.3,313.6 362.6,313.2 362.9,313.5 363.2,313.4 363.4,313.0 363.7,313.5 364.0,313.3 364.3,313.5 364.6,313.3 364.9,313.3 365.2,313.1 365.4,313.3 365.7,313.4 366.0,313.3 366.3,313.1 366.6,313.3 366.9,313.1 367.1,312.8 367.4,312.8 367.7,312.8 368.0,312.8 368.3,312.8 368.6,313.0 368.9,313.1 369.1,313.0 369.4,312.9 369.7,313.0 370.0,312.8 370.3,312.9 370.6,313.1 370.9,312.8 371.1,312.7 371.4,313.1 371.7,313.0 372.0,312.8 372.3,312.7 372.6,312.8 372.9,312.9 373.1,312.6 373.4,312.5 373.7,312.6 374.0,312.9 374.3,312.5 374.6,312.7 374.8,312.5 375.1,312.5 375.4,312.5 375.7,312.6 376.0,312.4 376.3,312.3 376.6,312.4 376.8,312.4 377.1,312.6 377.4,312.3 377.7,312.3 378.0,312.5 378.3,312.5 378.6,312.7 378.8,312.2 379.1,312.5 379.4,312.4 379.7,312.2 380.0,312.8 380.3,312.3 380.5,312.2 380.8,312.4 381.1,312.2 381.4,312.5 381.7,312.3 382.0,312.2 382.3,312.1 382.5,312.5 382.8,312.2 383.1,312.5 383.4,312.3 383.7,312.6 384.0,312.2 384.2,312.1 384.5,312.1 384.8,312.5 385.1,312.3 385.4,312.1 385.7,312.0 386.0,312.3 386.2,312.5 386.5,312.3 386.8,311.9 387.1,311.9 387.4,311.9 387.7,311.9 388.0,311.8 388.2,311.8 388.5,312.2 388.8,312.3 389.1,311.9 389.4,312.4 389.7,312.0 389.9,312.2 390.2,312.3 390.5,312.3 390.8,311.7 391.1,311.9 391.4,312.0 391.7,312.2 391.9,311.7 392.2,311.8 392.5,312.1 392.8,311.7 393.1,311.8 393.4,311.8 393.7,312.0 393.9,312.1 394.2,311.6 394.5,312.0 394.8,311.9 395.1,312.0 395.4,311.8 395.6,312.0 395.9,311.7 396.2,311.7 396.5,311.5 396.8,311.9 397.1,311.7 397.4,311.5 397.6,311.4 397.9,311.8 398.2,311.7 398.5,311.7 398.8,311.5 399.1,311.6 399.4,311.3 399.6,311.7 399.9,311.2 400.2,311.5 400.5,311.7 400.8,311.6 401.1,311.2 401.4,311.3 401.6,311.6 401.9,311.5 402.2,311.6 402.5,311.6 402.8,311.3 403.1,311.6 403.3,311.5 403.6,311.2 403.9,311.2 404.2,311.0 404.5,311.2 404.8,311.5 405.1,311.0 405.3,311.3 405.6,310.9 405.9,310.9 406.2,311.2 406.5,311.0 406.8,310.8 407.1,310.9 407.3,311.2 407.6,311.1 407.9,310.7 408.2,310.9 408.5,311.3 408.8,310.8 409.0,311.0 409.3,310.9 409.6,311.1 409.9,311.0 410.2,311.1 410.5,310.9 410.8,310.7 411.0,310.6 411.3,310.6 411.6,311.0 411.9,310.5 412.2,310.5 412.5,311.0 412.8,310.5 413.0,311.0 413.3,310.4 413.6,310.6 413.9,310.5 414.2,310.8 414.5,310.7 414.7,310.7 415.0,310.7 415.3,310.8 415.6,310.4 415.9,310.6 416.2,310.5 416.5,310.2 416.7,310.7 417.0,310.5 417.3,310.6 417.6,310.2 417.9,310.4 418.2,310.3 418.4,310.5 418.7,310.0 419.0,310.2 419.3,310.3 419.6,310.0 419.9,310.3 420.2,310.4 420.4,310.2 420.7,310.3 421.0,310.2 421.3,310.0 421.6,310.0 421.9,310.4 422.2,310.0 422.4,310.0 422.7,309.8 423.0,309.8 423.3,309.8 423.6,310.3 423.9,310.1 424.1,310.2 424.4,310.2 424.7,310.0 425.0,310.2 425.3,309.9 425.6,309.8 425.9,310.1 426.1,310.1 426.4,310.1 426.7,309.8 427.0,309.9 427.3,309.7 427.6,310.0 427.9,310.0 428.1,309.5 428.4,309.9 428.7,309.4 429.0,309.4 429.3,309.7 429.6,309.5 429.9,309.6 430.1,309.6 430.4,309.2 430.7,309.7 431.0,309.4 431.3,309.4 431.6,309.4 431.8,309.6 432.1,309.6 432.4,309.3 432.7,309.1 433.0,309.3 433.3,309.3 433.6,309.1 433.8,309.1 434.1,309.5 434.4,309.4 434.7,309.6 435.0,309.6 435.3,309.5 435.5,309.1 435.8,309.0 436.1,309.1 436.4,309.2 436.7,309.2 437.0,309.2 437.3,309.0 437.5,309.3 437.8,309.0 438.1,309.1 438.4,309.3 438.7,309.2 439.0,308.9 439.3,308.8 439.5,309.2 439.8,308.7 440.1,308.7 440.4,309.0 440.7,308.9 441.0,308.7 441.2,308.6 441.5,308.7 441.8,309.0 442.1,308.8 442.4,309.1 442.7,309.0 443.0,309.1 443.2,308.4 443.5,308.5 443.8,308.4 444.1,308.6 444.4,308.5 444.7,308.3 445.0,308.6 445.2,308.3 445.5,308.4 445.8,308.4 446.1,308.7 446.4,308.4 446.7,308.3 446.9,308.1 447.2,308.4 447.5,308.5 447.8,308.5 448.1,308.6 448.4,308.5 448.7,308.1 448.9,308.0 449.2,308.4 449.5,308.4 449.8,308.2 450.1,308.3 450.4,308.1 450.7,307.9 450.9,307.8 451.2,307.7 451.5,308.1 451.8,308.2 452.1,308.2 452.4,307.9 452.6,308.0 452.9,308.1 453.2,308.0 453.5,307.8 453.8,307.7 454.1,307.7 454.4,307.4 454.6,307.4 454.9,307.7 455.2,307.8 455.5,307.4 455.8,307.3 456.1,307.2 456.4,307.2 456.6,307.3 456.9,306.9 457.2,306.9 457.5,306.0 457.8,305.7 458.1,305.4 458.4,305.0 458.6,305.0 458.9,304.9 459.2,305.1 459.5,305.0 459.8,304.9 460.1,305.6 460.3,305.8 460.6,306.1 460.9,306.1 461.2,306.4 461.5,306.6 461.8,306.0 462.1,306.4 462.3,306.2 462.6,306.2 462.9,306.4 463.2,306.4 463.5,306.2 463.8,305.8 464.0,306.2 464.3,305.7 464.6,305.7 464.9,305.6 465.2,304.4 465.5,303.2 465.8,302.1 466.0,300.5 466.3,298.5 466.6,297.1 466.9,295.9 467.2,295.0 467.5,294.8 467.8,295.3 468.0,295.1 468.3,295.7 468.6,296.3 468.9,297.0 469.2,298.1 469.5,299.2 469.8,300.2 470.0,301.1 470.3,302.2 470.6,302.7 470.9,303.8 471.2,305.1 471.5,305.3 471.7,306.1 472.0,306.7 472.3,306.8 472.6,307.1 472.9,306.8 473.2,306.7 473.5,306.9 473.7,306.1 474.0,306.2 474.3,305.3 474.6,305.3 474.9,304.6 475.2,304.1 475.4,303.2 475.7,302.6 476.0,302.5 476.3,301.6 476.6,301.1 476.9,301.1 477.2,300.7 477.4,299.8 477.7,300.0 478.0,299.4 478.3,298.9 478.6,298.4 478.9,298.2 479.2,298.2 479.4,297.4 479.7,297.0 480.0,296.7 480.3,296.5 480.6,296.4 480.9,296.5 481.1,295.8 481.4,295.8 481.7,296.1 482.0,296.1 482.3,296.0 482.6,295.4 482.9,295.4 483.1,295.6 483.4,295.3 483.7,295.3 484.0,295.0 484.3,294.7 484.6,294.9 484.9,295.1 485.1,295.0 485.4,294.8 485.7,294.7 486.0,294.7 486.3,294.6 486.6,294.6 486.9,294.7 487.1,294.3 487.4,294.5 487.7,294.7 488.0,294.6 488.3,294.1 488.6,294.6 488.8,294.5 489.1,294.0 489.4,294.0 489.7,293.9 490.0,293.8 490.3,294.4 490.6,294.0 490.8,294.2 491.1,293.7 491.4,293.6 491.7,294.1 492.0,294.1" fill="none" stroke="#000" stroke-width="1.3" stroke-linejoin="round" stroke-linecap="round" />
<polyline points="313.0,312.7 313.3,310.9 313.6,309.1 313.9,307.6 314.1,305.5 314.4,304.2 314.7,302.5 315.0,300.6 315.3,299.2 315.6,297.2 315.9,295.1 316.1,292.7 316.4,290.6 316.7,288.8 317.0,287.8 317.3,287.6 317.6,287.7 317.8,288.1 318.1,288.8 318.4,289.4 318.7,290.9 319.0,291.6 319.3,292.8 319.6,294.3 319.8,295.7 320.1,296.7 320.4,297.9 320.7,298.7 321.0,300.3 321.3,301.1 321.6,302.3 321.8,303.5 322.1,304.9 322.4,306.2 322.7,307.0 323.0,308.1 323.3,309.2 323.5,309.9 323.8,311.0 324.1,312.0 324.4,312.6 324.7,312.7 325.0,313.7 325.3,313.9 325.5,314.8 325.8,314.9 326.1,315.2 326.4,315.8 326.7,316.4 327.0,316.4 327.2,317.0 327.5,317.1 327.8,317.1 328.1,317.2 328.4,317.5 328.7,317.6 329.0,317.7 329.2,318.0 329.5,318.3 329.8,318.2 330.1,318.1 330.4,318.2 330.7,318.4 331.0,318.6 331.2,318.4 331.5,318.4 331.8,318.6 332.1,318.6 332.4,318.5 332.7,318.8 332.9,319.0 333.2,318.8 333.5,318.9 333.8,318.9 334.1,318.9 334.4,319.0 334.7,318.6 334.9,318.8 335.2,318.4 335.5,318.9 335.8,318.5 336.1,318.6 336.4,318.8 336.7,318.4 336.9,318.3 337.2,318.7 337.5,318.5 337.8,318.1 338.1,318.1 338.4,318.3 338.6,318.0 338.9,318.5 339.2,318.0 339.5,318.1 339.8,318.1 340.1,318.1 340.4,318.0 340.6,318.1 340.9,318.1 341.2,317.9 341.5,317.7 341.8,318.2 342.1,318.0 342.4,317.5 342.6,317.7 342.9,317.9 343.2,318.0 343.5,317.4 343.8,317.3 344.1,317.6 344.4,317.5 344.6,317.7 344.9,317.7 345.2,317.3 345.5,317.3 345.8,317.4 346.1,317.5 346.3,317.1 346.6,317.2 346.9,316.9 347.2,317.3 347.5,316.8 347.8,317.4 348.1,317.1 348.3,317.1 348.6,316.7 348.9,316.8 349.2,316.9 349.5,317.1 349.8,316.9 350.1,316.7 350.3,317.1 350.6,316.9 350.9,316.7 351.2,316.5 351.5,316.5 351.8,316.9 352.0,316.3 352.3,316.6 352.6,316.6 352.9,316.4 353.2,316.6 353.5,316.7 353.8,316.6 354.0,316.5 354.3,316.1 354.6,316.0 354.9,316.2 355.2,316.1 355.5,315.9 355.8,316.3 356.0,315.9 356.3,316.2 356.6,316.3 356.9,315.7 357.2,316.2 357.5,315.8 357.7,315.7 358.0,315.6 358.3,315.5 358.6,315.7 358.9,315.6 359.2,315.9 359.5,315.8 359.7,315.3 360.0,315.5 360.3,315.4 360.6,315.3 360.9,315.3 361.2,315.3 361.4,315.5 361.7,315.2 362.0,315.1 362.3,315.1 362.6,315.2 362.9,315.2 363.2,315.0 363.4,315.3 363.7,314.9 364.0,315.2 364.3,315.1 364.6,314.8 364.9,315.1 365.2,314.9 365.4,314.9 365.7,315.0 366.0,314.9 366.3,314.8 366.6,314.5 366.9,315.0 367.1,315.0 367.4,314.7 367.7,314.8 368.0,314.5 368.3,314.9 368.6,314.7 368.9,314.4 369.1,314.8 369.4,314.9 369.7,314.4 370.0,314.8 370.3,314.5 370.6,314.3 370.9,314.6 371.1,314.3 371.4,314.6 371.7,314.5 372.0,314.1 372.3,314.4 372.6,314.6 372.9,314.3 373.1,314.3 373.4,314.5 373.7,314.2 374.0,314.2 374.3,314.3 374.6,314.4 374.8,314.0 375.1,313.9 375.4,314.3 375.7,314.2 376.0,314.0 376.3,314.3 376.6,314.3 376.8,314.1 377.1,314.4 377.4,314.2 377.7,314.2 378.0,313.9 378.3,313.7 378.6,314.1 378.8,314.1 379.1,313.8 379.4,313.9 379.7,313.9 380.0,313.7 380.3,314.0 380.5,313.9 380.8,313.8 381.1,313.6 381.4,313.8 381.7,313.7 382.0,313.9 382.3,313.5 382.5,313.7 382.8,313.5 383.1,313.6 383.4,313.7 383.7,313.4 384.0,313.4 384.2,313.6 384.5,313.4 384.8,313.6 385.1,313.4 385.4,313.3 385.7,313.6 386.0,313.8 386.2,313.8 386.5,313.5 386.8,313.5 387.1,313.2 387.4,313.4 387.7,313.4 388.0,313.8 388.2,313.2 388.5,313.7 388.8,313.4 389.1,313.4 389.4,313.3 389.7,313.7 389.9,313.2 390.2,313.4 390.5,313.4 390.8,313.2 391.1,313.2 391.4,313.6 391.7,313.5 391.9,313.4 392.2,313.5 392.5,313.0 392.8,313.4 393.1,313.4 393.4,313.1 393.7,313.2 393.9,313.5 394.2,313.1 394.5,313.4 394.8,313.0 395.1,313.3 395.4,313.0 395.6,313.2 395.9,313.1 396.2,313.4 396.5,313.3 396.8,313.1 397.1,313.2 397.4,313.1 397.6,313.3 397.9,312.9 398.2,313.1 398.5,313.1 398.8,313.0 399.1,312.8 399.4,312.8 399.6,313.1 399.9,312.8 400.2,313.2 400.5,313.0 400.8,313.3 401.1,313.2 401.4,313.1 401.6,312.9 401.9,312.7 402.2,313.0 402.5,313.1 402.8,313.2 403.1,312.7 403.3,312.7 403.6,313.2 403.9,313.0 404.2,312.9 404.5,313.0 404.8,312.6 405.1,312.9 405.3,312.9 405.6,312.9 405.9,312.6 406.2,312.6 406.5,312.9 406.8,313.0 407.1,312.6 407.3,312.5 407.6,312.5 407.9,312.9 408.2,312.7 408.5,312.7 408.8,313.0 409.0,312.8 409.3,312.6 409.6,312.8 409.9,312.4 410.2,312.5 410.5,312.8 410.8,312.5 411.0,312.4 411.3,312.7 411.6,312.5 411.9,312.9 412.2,312.4 412.5,312.8 412.8,312.5 413.0,312.8 413.3,312.6 413.6,312.7 413.9,312.5 414.2,312.4 414.5,312.5 414.7,312.8 415.0,312.5 415.3,312.4 415.6,312.5 415.9,312.3 416.2,312.4 416.5,312.6 416.7,312.5 417.0,312.6 417.3,312.4 417.6,312.2 417.9,312.2 418.2,312.4 418.4,312.3 418.7,312.5 419.0,312.3 419.3,312.6 419.6,312.5 419.9,312.6 420.2,312.6 420.4,312.5 420.7,312.4 421.0,312.3 421.3,312.2 421.6,312.6 421.9,312.4 422.2,312.2 422.4,312.7 422.7,312.5 423.0,312.5 423.3,312.4 423.6,312.2 423.9,312.7 424.1,312.2 424.4,312.3 424.7,312.7 425.0,312.2 425.3,312.4 425.6,312.4 425.9,312.2 426.1,312.7 426.4,312.3 426.7,312.1 427.0,312.4 427.3,312.1 427.6,312.5 427.9,312.6 428.1,312.7 428.4,312.1 428.7,312.5 429.0,312.3 429.3,312.4 429.6,312.3 429.9,312.3 430.1,312.2 430.4,312.5 430.7,312.1 431.0,312.7 431.3,312.1 431.6,312.7 431.8,312.2 432.1,312.1 432.4,312.6 432.7,312.4 433.0,312.6 433.3,312.4 433.6,312.5 433.8,312.1 434.1,312.5 434.4,312.4 434.7,312.7 435.0,312.1 435.3,312.1 435.5,312.5 435.8,312.7 436.1,312.3 436.4,312.5 436.7,312.4 437.0,312.3 437.3,312.4 437.5,312.5 437.8,312.1 438.1,312.3 438.4,312.6 438.7,312.2 439.0,312.4 439.3,312.2 439.5,312.3 439.8,312.5 440.1,312.6 440.4,312.7 440.7,312.4 441.0,312.2 441.2,312.3 441.5,312.1 441.8,312.2 442.1,312.5 442.4,312.5 442.7,312.2 443.0,312.2 443.2,312.1 443.5,312.2 443.8,312.4 444.1,312.2 444.4,312.6 444.7,312.4 445.0,312.3 445.2,312.4 445.5,312.1 445.8,312.5 446.1,312.6 446.4,312.3 446.7,312.5 446.9,312.3 447.2,312.2 447.5,312.2 447.8,312.2 448.1,312.5 448.4,312.5 448.7,312.5 448.9,312.2 449.2,312.7 449.5,312.6 449.8,312.7 450.1,313.0 450.4,313.2 450.7,313.2 450.9,313.5 451.2,313.8 451.5,314.0 451.8,314.2 452.1,313.8 452.4,314.2 452.6,314.1 452.9,313.9 453.2,313.9 453.5,313.2 453.8,313.4 454.1,313.3 454.4,312.6 454.6,312.7 454.9,312.7 455.2,312.0 455.5,312.2 455.8,312.1 456.1,311.6 456.4,311.2 456.6,311.0 456.9,311.2 457.2,310.7 457.5,310.4 457.8,310.3 458.1,310.5 458.4,310.0 458.6,309.7 458.9,310.3 459.2,310.0 459.5,310.2 459.8,310.9 460.1,310.8 460.3,311.1 460.6,312.1 460.9,312.2 461.2,312.8 461.5,313.8 461.8,313.8 462.1,314.7 462.3,314.8 462.6,315.2 462.9,315.4 463.2,315.8 463.5,315.9 463.8,315.6 464.0,315.3 464.3,314.6 464.6,314.3 464.9,313.5 465.2,312.6 465.5,311.8 465.8,310.5 466.0,309.9 466.3,309.3 466.6,308.9 466.9,309.3 467.2,309.4 467.5,309.7 467.8,310.1 468.0,310.6 468.3,311.7 468.6,312.4 468.9,313.9 469.2,314.5 469.5,315.5 469.8,316.8 470.0,317.1 470.3,318.1 470.6,318.1 470.9,318.5 471.2,318.1 471.5,318.4 471.7,317.9 472.0,317.6 472.3,317.5 472.6,317.1 472.9,316.5 473.2,316.0 473.5,315.9 473.7,315.1 474.0,315.2 474.3,314.4 474.6,313.9 474.9,313.6 475.2,313.1 475.4,312.9 475.7,312.8 476.0,312.4 476.3,312.1 476.6,311.8 476.9,311.7 477.2,311.6 477.4,311.1 477.7,311.1 478.0,310.7 478.3,310.2 478.6,310.1 478.9,310.3 479.2,309.9 479.4,309.7 479.7,309.6 480.0,309.7 480.3,309.3 480.6,309.1 480.9,309.0 481.1,308.6 481.4,308.9 481.7,308.7 482.0,308.6 482.3,308.5 482.6,308.4 482.9,308.5 483.1,308.1 483.4,308.5 483.7,307.9 484.0,308.4 484.3,307.9 484.6,308.3 484.9,308.0 485.1,307.8 485.4,308.1 485.7,308.3 486.0,308.3 486.3,308.3 486.6,308.3 486.9,307.7 487.1,307.9 487.4,307.8 487.7,308.2 488.0,308.0 488.3,308.1 488.6,308.2 488.8,308.3 489.1,308.1 489.4,308.2 489.7,308.0 490.0,307.7 490.3,308.2 490.6,307.7 490.8,307.7 491.1,308.1 491.4,307.8 491.7,308.0 492.0,307.6" fill="none" stroke="#000" stroke-width="1.3" stroke-linejoin="round" stroke-linecap="round" />
<text transform="translate(427.50,244.40) scale(0.96,1)" font-size="10.8" font-weight="bold" text-anchor="start" stroke="#000" stroke-width="0.25">rFVIIa</text>
<text transform="translate(478.60,291.20) scale(0.96,1)" font-size="10.8" font-weight="bold" text-anchor="start" stroke="#000" stroke-width="0.25">FX</text>
<text transform="translate(494.20,309.00) scale(0.96,1)" font-size="10.4" font-weight="bold" text-anchor="start" stroke="#000" stroke-width="0.25">neg</text>
<line x1="163.00" y1="389.00" x2="163.00" y2="503.00" stroke="#000" stroke-width="2" />
<line x1="162.00" y1="502.00" x2="331.80" y2="502.00" stroke="#000" stroke-width="2" />
<line x1="159.00" y1="502.00" x2="163.00" y2="502.00" stroke="#000" stroke-width="1.4" />
<text transform="translate(158.50,505.00) scale(0.92,1)" font-size="8.6" font-weight="bold" text-anchor="end" stroke="#000" stroke-width="0.3">0</text>
<line x1="159.00" y1="489.50" x2="163.00" y2="489.50" stroke="#000" stroke-width="1.4" />
<text transform="translate(158.50,492.50) scale(0.92,1)" font-size="8.6" font-weight="bold" text-anchor="end" stroke="#000" stroke-width="0.3">5</text>
<line x1="159.00" y1="477.00" x2="163.00" y2="477.00" stroke="#000" stroke-width="1.4" />
<text transform="translate(158.50,480.00) scale(0.92,1)" font-size="8.6" font-weight="bold" text-anchor="end" stroke="#000" stroke-width="0.3">10</text>
<line x1="159.00" y1="464.50" x2="163.00" y2="464.50" stroke="#000" stroke-width="1.4" />
<text transform="translate(158.50,467.50) scale(0.92,1)" font-size="8.6" font-weight="bold" text-anchor="end" stroke="#000" stroke-width="0.3">15</text>
<line x1="159.00" y1="452.00" x2="163.00" y2="452.00" stroke="#000" stroke-width="1.4" />
<text transform="translate(158.50,455.00) scale(0.92,1)" font-size="8.6" font-weight="bold" text-anchor="end" stroke="#000" stroke-width="0.3">20</text>
<line x1="159.00" y1="439.50" x2="163.00" y2="439.50" stroke="#000" stroke-width="1.4" />
<text transform="translate(158.50,442.50) scale(0.92,1)" font-size="8.6" font-weight="bold" text-anchor="end" stroke="#000" stroke-width="0.3">25</text>
<line x1="159.00" y1="427.00" x2="163.00" y2="427.00" stroke="#000" stroke-width="1.4" />
<text transform="translate(158.50,430.00) scale(0.92,1)" font-size="8.6" font-weight="bold" text-anchor="end" stroke="#000" stroke-width="0.3">30</text>
<line x1="159.00" y1="414.50" x2="163.00" y2="414.50" stroke="#000" stroke-width="1.4" />
<text transform="translate(158.50,417.50) scale(0.92,1)" font-size="8.6" font-weight="bold" text-anchor="end" stroke="#000" stroke-width="0.3">35</text>
<line x1="159.00" y1="402.00" x2="163.00" y2="402.00" stroke="#000" stroke-width="1.4" />
<text transform="translate(158.50,405.00) scale(0.92,1)" font-size="8.6" font-weight="bold" text-anchor="end" stroke="#000" stroke-width="0.3">40</text>
<line x1="159.00" y1="389.50" x2="163.00" y2="389.50" stroke="#000" stroke-width="1.4" />
<text transform="translate(158.50,392.50) scale(0.92,1)" font-size="8.6" font-weight="bold" text-anchor="end" stroke="#000" stroke-width="0.3">45</text>
<text transform="translate(142.70,445.20) rotate(-90) scale(0.92,1)" font-size="10.4" font-weight="bold" text-anchor="middle" stroke="#000" stroke-width="0.25">RU</text>
<rect x="171.8" y="405.00" width="38.69999999999999" height="97.00" fill="#000"/>
<line x1="191.15" y1="405.00" x2="191.15" y2="399.50" stroke="#000" stroke-width="1.2" />
<line x1="181.65" y1="399.50" x2="200.65" y2="399.50" stroke="#000" stroke-width="1.2" />
<line x1="191.15" y1="502.00" x2="191.15" y2="505.50" stroke="#000" stroke-width="1.3" />
<rect x="228" y="476.25" width="39" height="25.75" fill="#000"/>
<line x1="247.50" y1="476.25" x2="247.50" y2="472.50" stroke="#000" stroke-width="1.2" />
<line x1="238.00" y1="472.50" x2="257.00" y2="472.50" stroke="#000" stroke-width="1.2" />
<line x1="247.50" y1="502.00" x2="247.50" y2="505.50" stroke="#000" stroke-width="1.3" />
<rect x="284.5" y="485.50" width="38.5" height="16.50" fill="#000"/>
<line x1="303.75" y1="502.00" x2="303.75" y2="505.50" stroke="#000" stroke-width="1.3" />
<text transform="translate(191.00,513.50) scale(0.95,1)" font-size="8.8" font-weight="bold" text-anchor="middle">GC</text>
<text transform="translate(247.50,513.50) scale(0.95,1)" font-size="8.8" font-weight="bold" text-anchor="middle">GC + rFVIIa</text>
<text transform="translate(303.50,513.50) scale(0.95,1)" font-size="8.8" font-weight="bold" text-anchor="middle">GC</text>
<line x1="173.80" y1="518.30" x2="267.00" y2="518.30" stroke="#000" stroke-width="1.3" />
<line x1="282.50" y1="518.30" x2="322.50" y2="518.30" stroke="#000" stroke-width="1.3" />
<text transform="translate(220.00,537.20) scale(1.0,1)" font-size="10.5" font-weight="normal" text-anchor="middle">rFVIIa</text>
<text transform="translate(305.50,537.20) scale(1.0,1)" font-size="10.5" font-weight="normal" text-anchor="middle">FX</text>
<text transform="translate(335.00,513.60) scale(1.0,1)" font-size="7.5" font-weight="normal" text-anchor="start">perfused</text>
<text transform="translate(335.00,534.80) scale(1.0,1)" font-size="7.5" font-weight="normal" text-anchor="start">immobilized</text>
</svg>
</body></html>
